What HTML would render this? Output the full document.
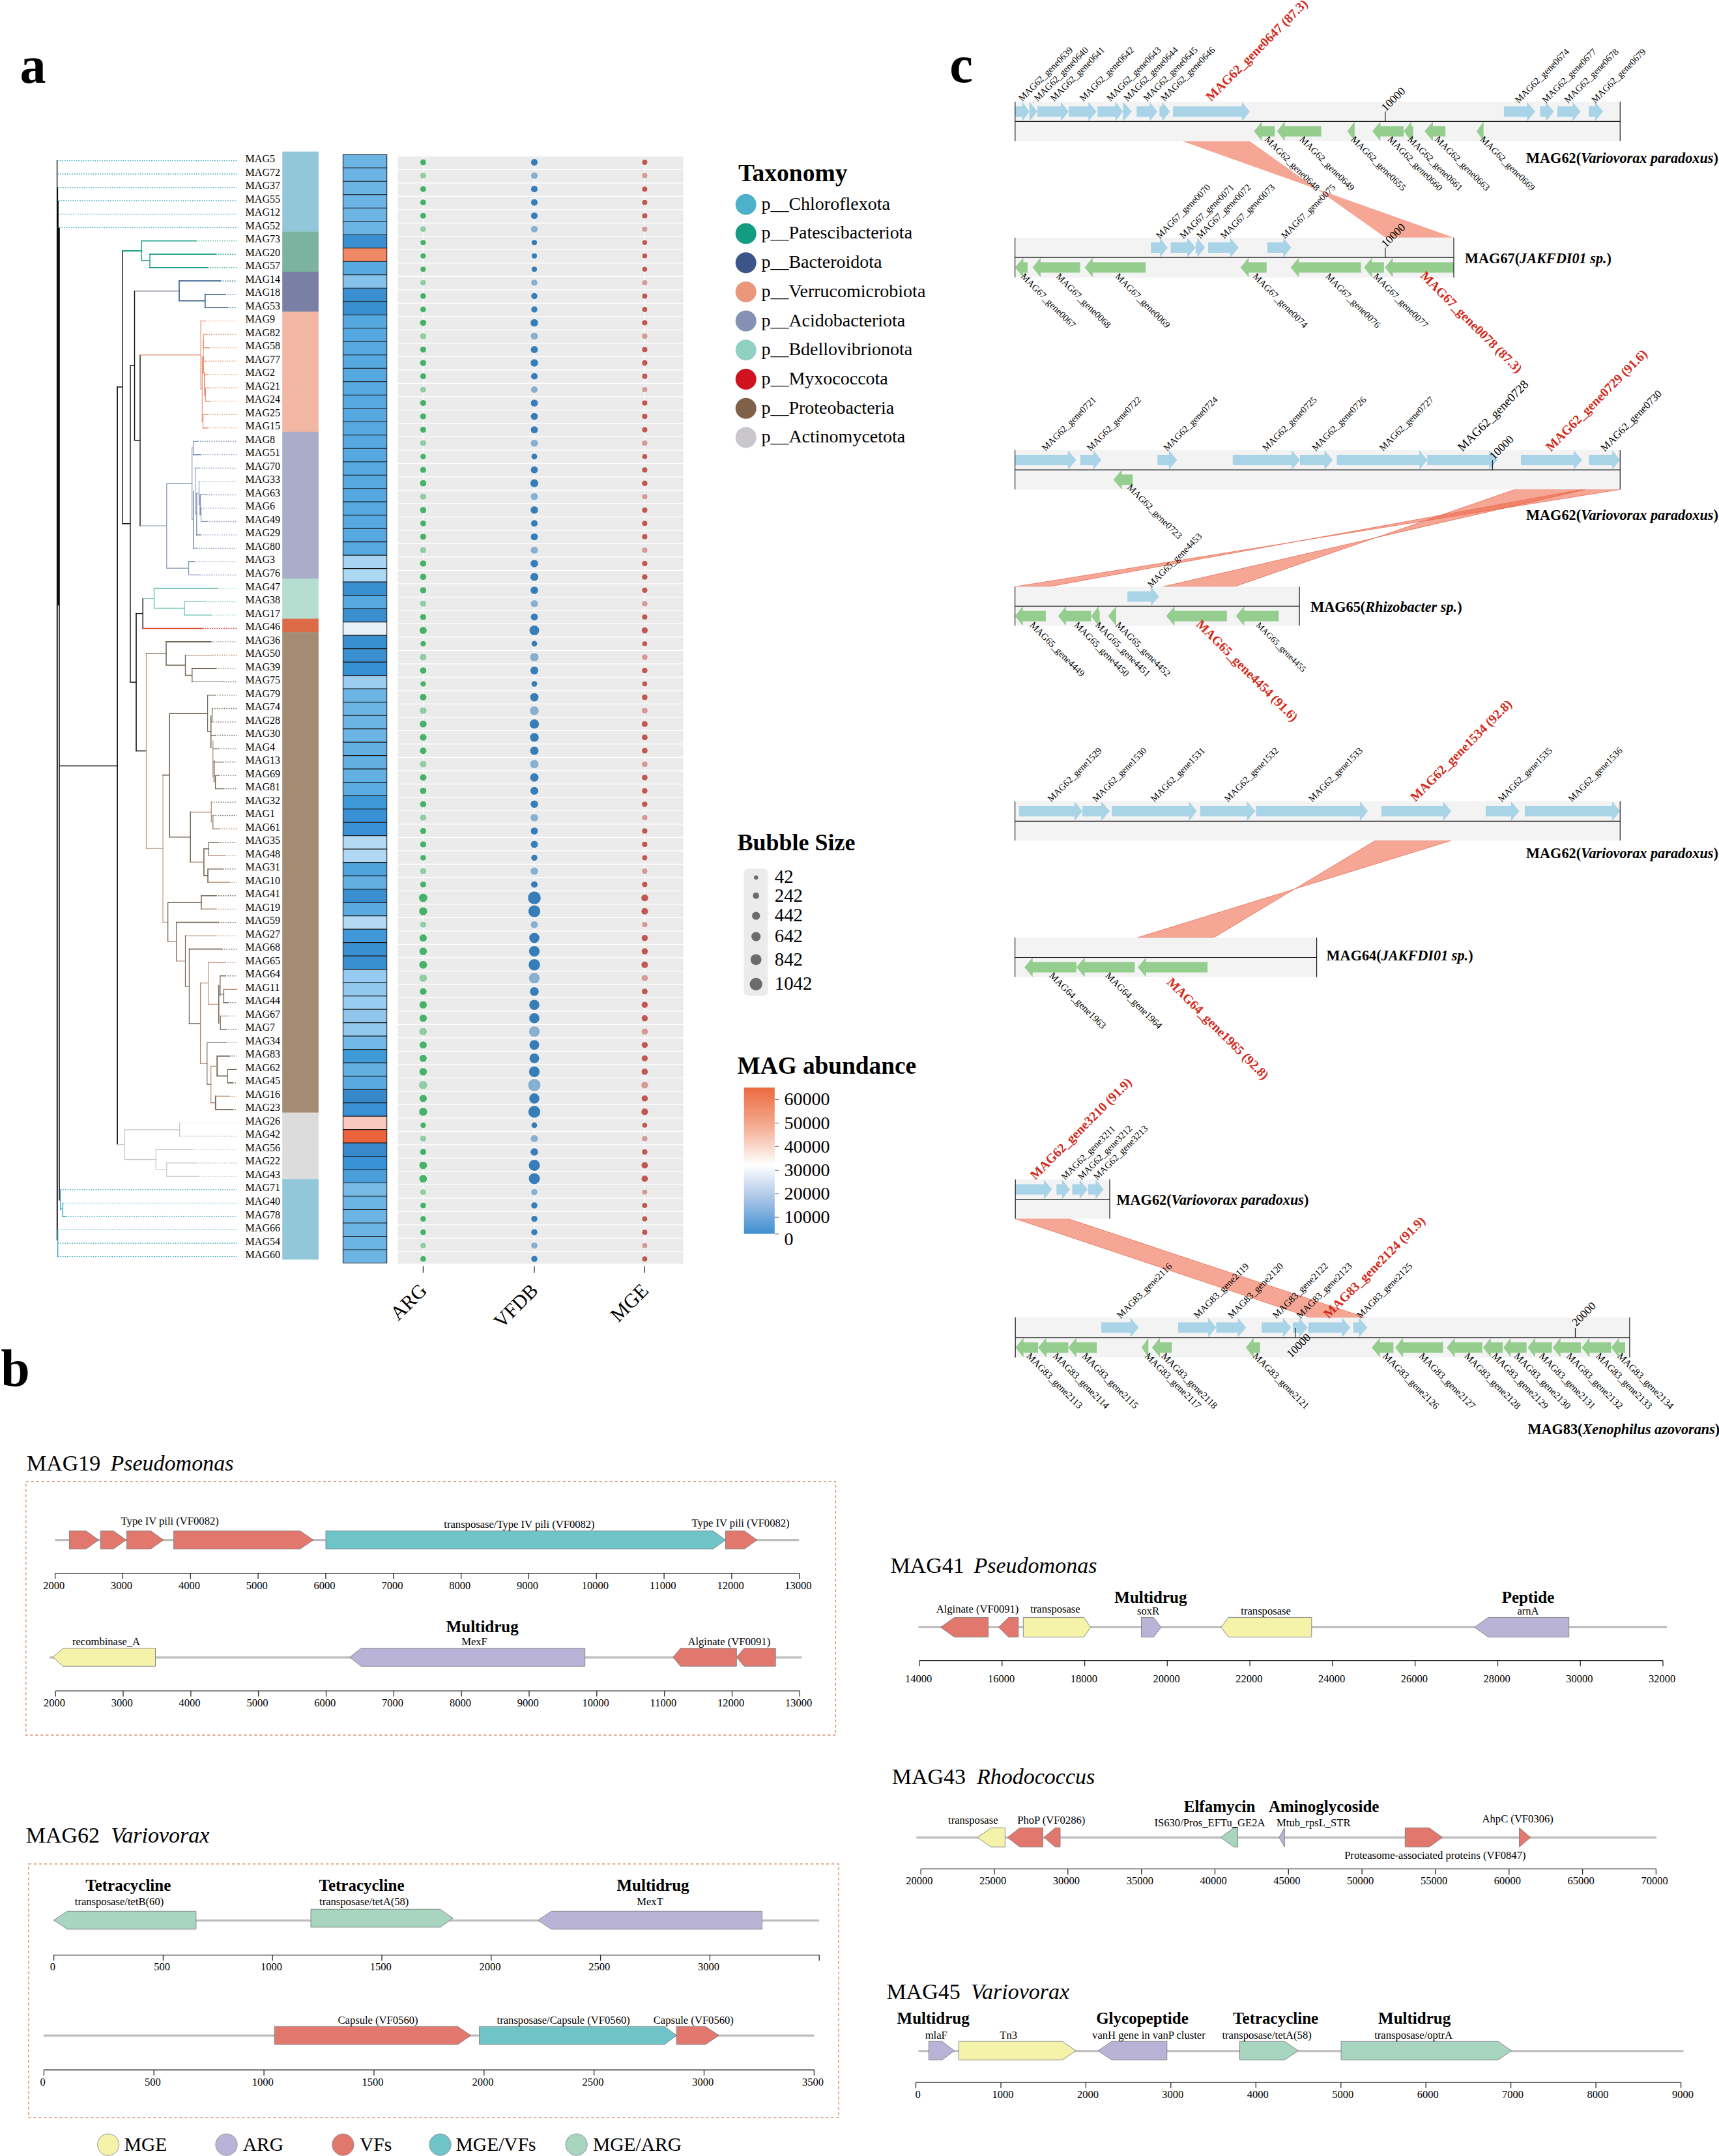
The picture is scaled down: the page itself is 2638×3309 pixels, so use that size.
<!DOCTYPE html>
<html><head><meta charset="utf-8"><title>Figure</title>
<style>
html,body{margin:0;padding:0;background:#fff;}
svg{display:block;font-family:"Liberation Serif",serif;}
</style></head><body>
<svg width="2638" height="3309" viewBox="0 0 2638 3309">
<rect width="2638" height="3309" fill="#fff"/>
<g id="panel-a">
<rect x="86.9" y="246" width="1.4" height="41.8" fill="#0c0c0c"/>
<rect x="86.9" y="287.6" width="2.2" height="20.7" fill="#0c0c0c"/>
<rect x="86.9" y="308.1" width="3" height="41.2" fill="#0c0c0c"/>
<rect x="86.9" y="349.2" width="4.9" height="580" fill="#0c0c0c"/>
<path d="M87.8 929L87.8 1902.5" stroke="#111" stroke-width="1.9" fill="none" stroke-linecap="square"/>
<path d="M91 929L91 1841.6M91.2 1175.5L180 1175.5M209 941.6L209 1152.5" stroke="#111" stroke-width="1.6" fill="none" stroke-linecap="square"/>
<path d="M180 594L180 1756.6" stroke="#111" stroke-width="1.8" fill="none" stroke-linecap="square"/>
<path d="M180 594L188 594M188 385L188 803.8M188 803.8L200 803.8M200 561L200 1047M200 561L206.5 561M200 1047L209 1047M206.5 446.8L206.5 675.8M206.5 675.8L215 675.8M215 544.7L215 807M219.2 918.5L219.2 964.5M209 941.6L219.2 941.6M209 1152.5L224.4 1152.5" stroke="#111" stroke-width="1.4" fill="none" stroke-linecap="square"/>
<path d="M188 385L217.3 385M230 390.2L331 390.2" stroke="#1B9E86" stroke-width="1.8" fill="none" stroke-linecap="square"/>
<path d="M217.3 369.7L217.3 400M217.3 400L230 400M230 390.2L230 410.7" stroke="#1B9E86" stroke-width="1.4" fill="none" stroke-linecap="square"/>
<path d="M217.3 369.7L301 369.7M230 410.7L318.6 410.7" stroke="#1B9E86" stroke-width="1.6" fill="none" stroke-linecap="square"/>
<path d="M206.5 446.8L275 446.8" stroke="#4a5570" stroke-width="1.0" fill="none" stroke-linecap="square"/>
<path d="M275 431.2L275 461.8M275 461.8L314.8 461.8M314.8 451.7L314.8 472.2M314.8 451.7L345.5 451.7M314.8 472.2L349 472.2" stroke="#2F5A86" stroke-width="1.6" fill="none" stroke-linecap="square"/>
<path d="M275 431.2L338 431.2" stroke="#2F5A86" stroke-width="1.8" fill="none" stroke-linecap="square"/>
<path d="M215 544.7L308.3 544.7M312.2 533.8L321.3 533.8M315.5 615.8L322.6 615.8" stroke="#E9967A" stroke-width="1.4" fill="none" stroke-linecap="square"/>
<path d="M308.2 492.7L308.2 597" stroke="#E9967A" stroke-width="1.3" fill="none" stroke-linecap="square"/>
<path d="M308.2 492.7L315.5 492.7M308.2 597L310.4 597M310.3 547.5L310.3 646.8M312.5 513.2L316.8 513.2M313.2 554.3L316.1 554.3M314.2 574.8L318.7 574.8M315.5 595.3L322 595.3M315.5 595.3L315.5 615.8M311.6 636.3L311.6 656.8M311.6 636.3L318.7 636.3" stroke="#E9967A" stroke-width="1.2" fill="none" stroke-linecap="square"/>
<path d="M310.9 636.3L310.9 646.8M311.9 522.9L311.9 534M314 572.2L314 606.6" stroke="#E9967A" stroke-width="1.8" fill="none" stroke-linecap="square"/>
<path d="M312.5 513.2L312.5 533.8" stroke="#E9967A" stroke-width="1.1" fill="none" stroke-linecap="square"/>
<path d="M312.2 534L312.2 547.5" stroke="#E9967A" stroke-width="1.0" fill="none" stroke-linecap="square"/>
<path d="M312 547.5L312 572.2" stroke="#E9967A" stroke-width="2.2" fill="none" stroke-linecap="square"/>
<path d="M311.6 656.8L318.7 656.8" stroke="#E9967A" stroke-width="1.6" fill="none" stroke-linecap="square"/>
<path d="M215 807L255.8 807M255.8 742.4L255.8 872.2M255.8 742.4L294.8 742.4M294.7 687L294.7 797.3M296.8 677.3L296.8 697.8M294.8 687.4L296.8 687.4M296.8 677.3L303.1 677.3M296.8 841.4L301.8 841.4M299.4 718.4L305.7 718.4M301.8 757L305.4 757M307 759.4L316.8 759.4M308.6 800.4L317.7 800.4M255.8 872.2L289.6 872.2M289.6 861.9L289.6 882.4M289.6 882.4L306.3 882.4" stroke="#8494B8" stroke-width="1.2" fill="none" stroke-linecap="square"/>
<path d="M296.8 697.8L307.7 697.8M301.8 820.9L307.7 820.9" stroke="#8494B8" stroke-width="1.8" fill="none" stroke-linecap="square"/>
<path d="M294.7 797.3L296.6 797.3M299.5 788.8L301.8 788.8" stroke="#8494B8" stroke-width="1.0" fill="none" stroke-linecap="square"/>
<path d="M296.8 753.8L296.8 841.4M289.6 861.9L298 861.9" stroke="#8494B8" stroke-width="1.6" fill="none" stroke-linecap="square"/>
<path d="M299.5 718.4L299.5 788.8M305.4 738.9L305.4 774.5M308.6 779.9L308.6 800.4" stroke="#8494B8" stroke-width="1.1" fill="none" stroke-linecap="square"/>
<path d="M301.8 757L301.8 820.9" stroke="#8494B8" stroke-width="1.4" fill="none" stroke-linecap="square"/>
<path d="M307.2 759.4L307.2 790" stroke="#8494B8" stroke-width="2.0" fill="none" stroke-linecap="square"/>
<path d="M219.2 918.5L236.6 918.5M283.2 923.5L316 923.5" stroke="#7FCBBD" stroke-width="1.2" fill="none" stroke-linecap="square"/>
<path d="M236.6 903L236.6 933.6M236.6 933.6L283.2 933.6M283.2 944L323.7 944" stroke="#7FCBBD" stroke-width="1.6" fill="none" stroke-linecap="square"/>
<path d="M236.6 903L334 903" stroke="#7FCBBD" stroke-width="1.8" fill="none" stroke-linecap="square"/>
<path d="M283.2 923.5L283.2 944" stroke="#7FCBBD" stroke-width="1.4" fill="none" stroke-linecap="square"/>
<path d="M219.2 964.5L310.9 964.5" stroke="#D63A20" stroke-width="1.4" fill="none" stroke-linecap="square"/>
<path d="M224.4 1002.7L224.4 1302.2M224.4 1302.2L250 1302.2M250 1189.6L250 1415.4M250 1415.4L257.6 1415.4M284.5 1436.2L331.4 1436.2M307.6 1508.8L319.6 1508.8M319.6 1477.3L319.6 1541.3M319.6 1477.3L345.4 1477.3M319.6 1541.3L335.7 1541.3M338.3 1559.3L349 1559.3M307.6 1632.4L317.8 1632.4" stroke="#B08266" stroke-width="1.0" fill="none" stroke-linecap="square"/>
<path d="M224.4 1002.7L255 1002.7M294.8 1046.5L342.9 1046.5M318.6 1067L318.6 1122.5M318.6 1067L330 1067M318.6 1122.5L323.7 1122.5M325.5 1087.6L325.5 1108.1M323.7 1128.6L330 1128.6M326.8 1149.1L335.5 1149.1M326.8 1169.6L341.6 1169.6M330.6 1190.1L335.5 1190.1M330.6 1210.6L343 1210.6M330.6 1190.1L330.6 1210.6M326.8 1251.6L326.8 1272.1M320.4 1292.7L320.4 1313.2M270.7 1415.7L270.7 1475M284.5 1436.2L284.5 1513.9M290.4 1456.7L290.4 1571M337.8 1526L343.4 1526M338.3 1559.3L338.3 1579.8M317.8 1600.3L317.8 1664.2M317.8 1600.3L346.7 1600.3M317.8 1664.2L323.7 1664.2M349.3 1641.3L349.3 1661.9M349.3 1641.3L362 1641.3M323.7 1692.6L330.8 1692.6" stroke="#766859" stroke-width="1.2" fill="none" stroke-linecap="square"/>
<path d="M255 985L255 1020.9M255 1020.9L284.5 1020.9M250 1189.6L260.2 1189.6M260.2 1094.9L260.2 1284.8M260.2 1094.9L318.6 1094.9M323.7 1098.7L323.7 1147.4M328.6 1168L328.6 1200M260.2 1284.8L292.2 1284.8M292.2 1246.4L292.2 1323.2M312.9 1302.7L312.9 1343.7M319 1333.7L319 1354.2M319 1333.7L341.6 1333.7M308.8 1374.7L308.8 1395.2M290.4 1571L307.6 1571M335.7 1512.6L335.7 1570.2M343.4 1538.8L349.3 1538.8M338.3 1579.8L346.7 1579.8M333.2 1651.4L349.3 1651.4M349.3 1661.9L357 1661.9" stroke="#766859" stroke-width="1.6" fill="none" stroke-linecap="square"/>
<path d="M255 985L323.7 985M294.8 1026L331.4 1026M270.7 1415.7L335.2 1415.7M290.4 1456.7L340.3 1456.7M333.2 1620.8L333.2 1651.4M333.2 1620.8L351.8 1620.8M330.8 1682.4L330.8 1702.9M330.8 1702.9L357 1702.9" stroke="#766859" stroke-width="1.8" fill="none" stroke-linecap="square"/>
<path d="M284.5 1005.5L284.5 1036.5M284.5 1036.5L294.8 1036.5M294.8 1026L294.8 1046.5M312.9 1302.7L320.4 1302.7M320.4 1292.7L334.4 1292.7M312.9 1343.7L319 1343.7M257.6 1385.2L257.6 1445.3M257.6 1385.2L308.8 1385.2M308.8 1374.7L331.4 1374.7M284.5 1513.9L290.4 1513.9M337.8 1497.8L337.8 1528M337.8 1497.8L345.4 1497.8M343.4 1518.3L343.4 1538.8" stroke="#766859" stroke-width="1.4" fill="none" stroke-linecap="square"/>
<path d="M284.5 1005.5L326 1005.5M326.8 1137L326.8 1192M292.2 1246.4L324.2 1246.4M324.2 1231.1L324.2 1261.8M326.8 1272.1L336.5 1272.1M292.2 1323.2L312.9 1323.2M320.4 1313.2L345.4 1313.2M319 1354.2L351.8 1354.2M308.8 1395.2L331.4 1395.2M257.6 1445.3L270.7 1445.3M270.7 1475L284.5 1475M307.6 1508.8L307.6 1632.4M343.4 1518.3L363.5 1518.3M323.7 1636.3L323.7 1692.6M323.7 1636.3L333.2 1636.3M330.8 1682.4L351.8 1682.4" stroke="#B08266" stroke-width="1.2" fill="none" stroke-linecap="square"/>
<path d="M180 1756.6L191.3 1756.6M239.2 1764.4L239.2 1795M239.2 1795L255.8 1795M255.8 1784.9L255.8 1805.4M255.8 1805.4L304.5 1805.4" stroke="#C6CACD" stroke-width="1.2" fill="none" stroke-linecap="square"/>
<path d="M191.3 1734L191.3 1779.6M275.6 1723.4L275.6 1743.9M191.3 1779.6L239.2 1779.6M239.2 1764.4L295.5 1764.4M255.8 1784.9L300.6 1784.9" stroke="#C6CACD" stroke-width="1.4" fill="none" stroke-linecap="square"/>
<path d="M191.3 1734L275.6 1734" stroke="#C6CACD" stroke-width="1.6" fill="none" stroke-linecap="square"/>
<path d="M92.8 1825.9L92.8 1857M96.4 1846.5L96.4 1867M88.7 1887.5L88.7 1928.5" stroke="#3FA7C6" stroke-width="1.4" fill="none" stroke-linecap="square"/>
<path d="M92.8 1855L96.4 1855" stroke="#3FA7C6" stroke-width="1.2" fill="none" stroke-linecap="square"/>
<path d="M96.4 1867L101 1867" stroke="#3FA7C6" stroke-width="1.6" fill="none" stroke-linecap="square"/>
<path d="M88 246.6L363.5 246.6M89.2 287.6L363.5 287.6M90.4 328.6L363.5 328.6M96.4 1846.5L363.5 1846.5M88.7 1887.5L363.5 1887.5M88.7 1928.5L363.5 1928.5" stroke="#3FA7C6" stroke-width="1.05" stroke-dasharray="1.6 2.0" fill="none"/>
<path d="M88.6 267.1L363.5 267.1M89.8 308.1L363.5 308.1M91 349.2L363.5 349.2M92.8 1825.9L363.5 1825.9M101 1867L363.5 1867M88.7 1908L363.5 1908" stroke="#3FA7C6" stroke-width="1.5" stroke-dasharray="1.6 2.0" fill="none"/>
<path d="M301 369.7L363.5 369.7M318.6 410.7L363.5 410.7" stroke="#1B9E86" stroke-width="1.05" stroke-dasharray="1.6 2.0" fill="none"/>
<path d="M331 390.2L363.5 390.2" stroke="#1B9E86" stroke-width="1.5" stroke-dasharray="1.6 2.0" fill="none"/>
<path d="M338 431.2L363.5 431.2M349 472.2L363.5 472.2" stroke="#2F5A86" stroke-width="1.5" stroke-dasharray="1.6 2.0" fill="none"/>
<path d="M345.5 451.7L363.5 451.7" stroke="#2F5A86" stroke-width="1.05" stroke-dasharray="1.6 2.0" fill="none"/>
<path d="M315.5 492.7L363.5 492.7M321.3 533.8L363.5 533.8M318.7 574.8L363.5 574.8M322.6 615.8L363.5 615.8M318.7 656.8L363.5 656.8" stroke="#E9967A" stroke-width="1.05" stroke-dasharray="1.6 2.0" fill="none"/>
<path d="M316.8 513.2L363.5 513.2M316.1 554.3L363.5 554.3M322 595.3L363.5 595.3M318.7 636.3L363.5 636.3" stroke="#E9967A" stroke-width="1.5" stroke-dasharray="1.6 2.0" fill="none"/>
<path d="M303.1 677.3L363.5 677.3M301.8 841.4L363.5 841.4M305.7 718.4L363.5 718.4M316.8 759.4L363.5 759.4M317.7 800.4L363.5 800.4M306.3 882.4L363.5 882.4" stroke="#8494B8" stroke-width="1.5" stroke-dasharray="1.6 2.0" fill="none"/>
<path d="M307.7 697.8L363.5 697.8M307.7 820.9L363.5 820.9M305.4 738.9L363.5 738.9M308.6 779.9L363.5 779.9M298 861.9L363.5 861.9" stroke="#8494B8" stroke-width="1.05" stroke-dasharray="1.6 2.0" fill="none"/>
<path d="M334 903L363.5 903M323.7 944L363.5 944" stroke="#7FCBBD" stroke-width="1.05" stroke-dasharray="1.6 2.0" fill="none"/>
<path d="M316 923.5L363.5 923.5" stroke="#7FCBBD" stroke-width="1.5" stroke-dasharray="1.6 2.0" fill="none"/>
<path d="M310.9 964.5L363.5 964.5" stroke="#D63A20" stroke-width="1.5" stroke-dasharray="1.6 2.0" fill="none"/>
<path d="M323.7 985L363.5 985M331.4 1026L363.5 1026M330 1067L363.5 1067M323.7 1108.1L363.5 1108.1M335.5 1149.1L363.5 1149.1M335.5 1190.1L363.5 1190.1M324.2 1231.1L363.5 1231.1M346.7 1600.3L363.5 1600.3M362 1641.3L363.5 1641.3" stroke="#766859" stroke-width="1.05" stroke-dasharray="1.6 2.0" fill="none"/>
<path d="M326 1005.5L363.5 1005.5" stroke="#B08266" stroke-width="1.5" stroke-dasharray="1.6 2.0" fill="none"/>
<path d="M342.9 1046.5L363.5 1046.5M325.5 1087.6L363.5 1087.6M330 1128.6L363.5 1128.6M341.6 1169.6L363.5 1169.6M343 1210.6L363.5 1210.6M326.8 1251.6L363.5 1251.6M334.4 1292.7L363.5 1292.7M341.6 1333.7L363.5 1333.7M331.4 1374.7L363.5 1374.7M335.2 1415.7L363.5 1415.7M340.3 1456.7L363.5 1456.7M345.4 1497.8L363.5 1497.8M349.3 1538.8L363.5 1538.8M346.7 1579.8L363.5 1579.8M351.8 1620.8L363.5 1620.8M357 1661.9L363.5 1661.9M357 1702.9L363.5 1702.9" stroke="#766859" stroke-width="1.5" stroke-dasharray="1.6 2.0" fill="none"/>
<path d="M336.5 1272.1L363.5 1272.1M345.4 1313.2L363.5 1313.2M351.8 1354.2L363.5 1354.2M331.4 1395.2L363.5 1395.2M331.4 1436.2L363.5 1436.2M345.4 1477.3L363.5 1477.3M349 1559.3L363.5 1559.3M351.8 1682.4L363.5 1682.4" stroke="#B08266" stroke-width="1.05" stroke-dasharray="1.6 2.0" fill="none"/>
<path d="M275.6 1723.4L363.5 1723.4M295.5 1764.4L363.5 1764.4M304.5 1805.4L363.5 1805.4" stroke="#C6CACD" stroke-width="1.05" stroke-dasharray="1.6 2.0" fill="none"/>
<path d="M275.6 1743.9L363.5 1743.9M300.6 1784.9L363.5 1784.9" stroke="#C6CACD" stroke-width="1.5" stroke-dasharray="1.6 2.0" fill="none"/>
<g font-size="16" fill="#000">
<text x="376.6" y="249.1">MAG5</text>
<text x="376.6" y="269.6">MAG72</text>
<text x="376.6" y="290.1">MAG37</text>
<text x="376.6" y="310.6">MAG55</text>
<text x="376.6" y="331.1">MAG12</text>
<text x="376.6" y="351.7">MAG52</text>
<text x="376.6" y="372.2">MAG73</text>
<text x="376.6" y="392.7">MAG20</text>
<text x="376.6" y="413.2">MAG57</text>
<text x="376.6" y="433.7">MAG14</text>
<text x="376.6" y="454.2">MAG18</text>
<text x="376.6" y="474.7">MAG53</text>
<text x="376.6" y="495.2">MAG9</text>
<text x="376.6" y="515.7">MAG82</text>
<text x="376.6" y="536.3">MAG58</text>
<text x="376.6" y="556.8">MAG77</text>
<text x="376.6" y="577.3">MAG2</text>
<text x="376.6" y="597.8">MAG21</text>
<text x="376.6" y="618.3">MAG24</text>
<text x="376.6" y="638.8">MAG25</text>
<text x="376.6" y="659.3">MAG15</text>
<text x="376.6" y="679.8">MAG8</text>
<text x="376.6" y="700.3">MAG51</text>
<text x="376.6" y="720.9">MAG70</text>
<text x="376.6" y="741.4">MAG33</text>
<text x="376.6" y="761.9">MAG63</text>
<text x="376.6" y="782.4">MAG6</text>
<text x="376.6" y="802.9">MAG49</text>
<text x="376.6" y="823.4">MAG29</text>
<text x="376.6" y="843.9">MAG80</text>
<text x="376.6" y="864.4">MAG3</text>
<text x="376.6" y="884.9">MAG76</text>
<text x="376.6" y="905.5">MAG47</text>
<text x="376.6" y="926">MAG38</text>
<text x="376.6" y="946.5">MAG17</text>
<text x="376.6" y="967">MAG46</text>
<text x="376.6" y="987.5">MAG36</text>
<text x="376.6" y="1008">MAG50</text>
<text x="376.6" y="1028.5">MAG39</text>
<text x="376.6" y="1049">MAG75</text>
<text x="376.6" y="1069.5">MAG79</text>
<text x="376.6" y="1090.1">MAG74</text>
<text x="376.6" y="1110.6">MAG28</text>
<text x="376.6" y="1131.1">MAG30</text>
<text x="376.6" y="1151.6">MAG4</text>
<text x="376.6" y="1172.1">MAG13</text>
<text x="376.6" y="1192.6">MAG69</text>
<text x="376.6" y="1213.1">MAG81</text>
<text x="376.6" y="1233.6">MAG32</text>
<text x="376.6" y="1254.1">MAG1</text>
<text x="376.6" y="1274.6">MAG61</text>
<text x="376.6" y="1295.2">MAG35</text>
<text x="376.6" y="1315.7">MAG48</text>
<text x="376.6" y="1336.2">MAG31</text>
<text x="376.6" y="1356.7">MAG10</text>
<text x="376.6" y="1377.2">MAG41</text>
<text x="376.6" y="1397.7">MAG19</text>
<text x="376.6" y="1418.2">MAG59</text>
<text x="376.6" y="1438.7">MAG27</text>
<text x="376.6" y="1459.2">MAG68</text>
<text x="376.6" y="1479.8">MAG65</text>
<text x="376.6" y="1500.3">MAG64</text>
<text x="376.6" y="1520.8">MAG11</text>
<text x="376.6" y="1541.3">MAG44</text>
<text x="376.6" y="1561.8">MAG67</text>
<text x="376.6" y="1582.3">MAG7</text>
<text x="376.6" y="1602.8">MAG34</text>
<text x="376.6" y="1623.3">MAG83</text>
<text x="376.6" y="1643.8">MAG62</text>
<text x="376.6" y="1664.4">MAG45</text>
<text x="376.6" y="1684.9">MAG16</text>
<text x="376.6" y="1705.4">MAG23</text>
<text x="376.6" y="1725.9">MAG26</text>
<text x="376.6" y="1746.4">MAG42</text>
<text x="376.6" y="1766.9">MAG56</text>
<text x="376.6" y="1787.4">MAG22</text>
<text x="376.6" y="1807.9">MAG43</text>
<text x="376.6" y="1828.4">MAG71</text>
<text x="376.6" y="1849">MAG40</text>
<text x="376.6" y="1869.5">MAG78</text>
<text x="376.6" y="1890">MAG66</text>
<text x="376.6" y="1910.5">MAG54</text>
<text x="376.6" y="1931">MAG60</text>
</g>
<rect x="433.2" y="232.6" width="55.7" height="123.2" fill="#91C7D9"/>
<rect x="433.2" y="355.5" width="55.7" height="61.8" fill="#7BB3A0"/>
<rect x="433.2" y="417" width="55.7" height="61.8" fill="#7A7FA5"/>
<rect x="433.2" y="478.4" width="55.7" height="184.7" fill="#F1B7A3"/>
<rect x="433.2" y="662.8" width="55.7" height="225.6" fill="#A9ADC8"/>
<rect x="433.2" y="888.2" width="55.7" height="61.8" fill="#B5DDD0"/>
<rect x="433.2" y="949.6" width="55.7" height="20.8" fill="#DD6B47"/>
<rect x="433.2" y="970.1" width="55.7" height="737.8" fill="#A38B74"/>
<rect x="433.2" y="1707.6" width="55.7" height="102.7" fill="#DCDCDC"/>
<rect x="433.2" y="1810" width="55.7" height="123.2" fill="#91C7D9"/>
<rect x="526.4" y="237.2" width="67.3" height="20.7" fill="#6CB4E4"/>
<rect x="526.4" y="257.7" width="67.3" height="20.7" fill="#6CB4E4"/>
<rect x="526.4" y="278.2" width="67.3" height="20.7" fill="#6CB4E4"/>
<rect x="526.4" y="298.7" width="67.3" height="20.7" fill="#6CB4E4"/>
<rect x="526.4" y="319.2" width="67.3" height="20.7" fill="#6CB4E4"/>
<rect x="526.4" y="339.7" width="67.3" height="20.7" fill="#6CB4E4"/>
<rect x="526.4" y="360.2" width="67.3" height="20.7" fill="#3A8FD0"/>
<rect x="526.4" y="380.7" width="67.3" height="20.7" fill="#F08866"/>
<rect x="526.4" y="401.2" width="67.3" height="20.7" fill="#55A8E0"/>
<rect x="526.4" y="421.7" width="67.3" height="20.7" fill="#85C1EA"/>
<rect x="526.4" y="442.2" width="67.3" height="20.7" fill="#3A8FD0"/>
<rect x="526.4" y="462.7" width="67.3" height="20.7" fill="#3A8FD0"/>
<rect x="526.4" y="483.2" width="67.3" height="20.7" fill="#55A8E0"/>
<rect x="526.4" y="503.7" width="67.3" height="20.7" fill="#55A8E0"/>
<rect x="526.4" y="524.2" width="67.3" height="20.7" fill="#55A8E0"/>
<rect x="526.4" y="544.7" width="67.3" height="20.7" fill="#55A8E0"/>
<rect x="526.4" y="565.2" width="67.3" height="20.7" fill="#55A8E0"/>
<rect x="526.4" y="585.7" width="67.3" height="20.7" fill="#55A8E0"/>
<rect x="526.4" y="606.2" width="67.3" height="20.7" fill="#55A8E0"/>
<rect x="526.4" y="626.7" width="67.3" height="20.7" fill="#55A8E0"/>
<rect x="526.4" y="647.2" width="67.3" height="20.7" fill="#55A8E0"/>
<rect x="526.4" y="667.7" width="67.3" height="20.7" fill="#55A8E0"/>
<rect x="526.4" y="688.2" width="67.3" height="20.7" fill="#55A8E0"/>
<rect x="526.4" y="708.7" width="67.3" height="20.7" fill="#55A8E0"/>
<rect x="526.4" y="729.2" width="67.3" height="20.7" fill="#55A8E0"/>
<rect x="526.4" y="749.7" width="67.3" height="20.7" fill="#55A8E0"/>
<rect x="526.4" y="770.1" width="67.3" height="20.7" fill="#55A8E0"/>
<rect x="526.4" y="790.6" width="67.3" height="20.7" fill="#55A8E0"/>
<rect x="526.4" y="811.1" width="67.3" height="20.7" fill="#55A8E0"/>
<rect x="526.4" y="831.6" width="67.3" height="20.7" fill="#55A8E0"/>
<rect x="526.4" y="852.1" width="67.3" height="20.7" fill="#A8D4F2"/>
<rect x="526.4" y="872.6" width="67.3" height="20.7" fill="#ACD8F4"/>
<rect x="526.4" y="893.1" width="67.3" height="20.7" fill="#3A8FD0"/>
<rect x="526.4" y="913.6" width="67.3" height="20.7" fill="#55A8E0"/>
<rect x="526.4" y="934.1" width="67.3" height="20.7" fill="#3A8FD0"/>
<rect x="526.4" y="954.6" width="67.3" height="20.7" fill="#E8F1F8"/>
<rect x="526.4" y="975.1" width="67.3" height="20.7" fill="#3A8FD0"/>
<rect x="526.4" y="995.6" width="67.3" height="20.7" fill="#3A8FD0"/>
<rect x="526.4" y="1016.1" width="67.3" height="20.7" fill="#3690D4"/>
<rect x="526.4" y="1036.6" width="67.3" height="20.7" fill="#9CCDF0"/>
<rect x="526.4" y="1057.1" width="67.3" height="20.7" fill="#6CB4E4"/>
<rect x="526.4" y="1077.6" width="67.3" height="20.7" fill="#6CB4E4"/>
<rect x="526.4" y="1098.1" width="67.3" height="20.7" fill="#6CB4E4"/>
<rect x="526.4" y="1118.6" width="67.3" height="20.7" fill="#6CB4E4"/>
<rect x="526.4" y="1139.1" width="67.3" height="20.7" fill="#62B0E2"/>
<rect x="526.4" y="1159.6" width="67.3" height="20.7" fill="#62B0E2"/>
<rect x="526.4" y="1180.1" width="67.3" height="20.7" fill="#62B0E2"/>
<rect x="526.4" y="1200.6" width="67.3" height="20.7" fill="#5BACE0"/>
<rect x="526.4" y="1221.1" width="67.3" height="20.7" fill="#3F98D8"/>
<rect x="526.4" y="1241.6" width="67.3" height="20.7" fill="#3A90D4"/>
<rect x="526.4" y="1262.1" width="67.3" height="20.7" fill="#3A90D4"/>
<rect x="526.4" y="1282.6" width="67.3" height="20.7" fill="#B4DAF3"/>
<rect x="526.4" y="1303.1" width="67.3" height="20.7" fill="#B0D8F2"/>
<rect x="526.4" y="1323.6" width="67.3" height="20.7" fill="#50A4DE"/>
<rect x="526.4" y="1344.1" width="67.3" height="20.7" fill="#62B0E2"/>
<rect x="526.4" y="1364.6" width="67.3" height="20.7" fill="#3A8FD0"/>
<rect x="526.4" y="1385.1" width="67.3" height="20.7" fill="#5AAAE0"/>
<rect x="526.4" y="1405.6" width="67.3" height="20.7" fill="#B4DAF3"/>
<rect x="526.4" y="1426.1" width="67.3" height="20.7" fill="#4098D8"/>
<rect x="526.4" y="1446.6" width="67.3" height="20.7" fill="#3A8FD0"/>
<rect x="526.4" y="1467.1" width="67.3" height="20.7" fill="#3A8FD0"/>
<rect x="526.4" y="1487.6" width="67.3" height="20.7" fill="#96CAF0"/>
<rect x="526.4" y="1508.1" width="67.3" height="20.7" fill="#90C8EE"/>
<rect x="526.4" y="1528.6" width="67.3" height="20.7" fill="#98CCF0"/>
<rect x="526.4" y="1549.1" width="67.3" height="20.7" fill="#90C6EC"/>
<rect x="526.4" y="1569.6" width="67.3" height="20.7" fill="#90C8EE"/>
<rect x="526.4" y="1590.1" width="67.3" height="20.7" fill="#72B8E6"/>
<rect x="526.4" y="1610.6" width="67.3" height="20.7" fill="#3F9AD8"/>
<rect x="526.4" y="1631.1" width="67.3" height="20.7" fill="#62B0E2"/>
<rect x="526.4" y="1651.6" width="67.3" height="20.7" fill="#58AAE0"/>
<rect x="526.4" y="1672.1" width="67.3" height="20.7" fill="#3888CC"/>
<rect x="526.4" y="1692.6" width="67.3" height="20.7" fill="#3A90D4"/>
<rect x="526.4" y="1713.1" width="67.3" height="20.7" fill="#F7C9BF"/>
<rect x="526.4" y="1733.6" width="67.3" height="20.7" fill="#EC643C"/>
<rect x="526.4" y="1754.1" width="67.3" height="20.7" fill="#3888CC"/>
<rect x="526.4" y="1774.6" width="67.3" height="20.7" fill="#3A92D6"/>
<rect x="526.4" y="1795" width="67.3" height="20.7" fill="#4A9EDA"/>
<rect x="526.4" y="1815.5" width="67.3" height="20.7" fill="#78BAE6"/>
<rect x="526.4" y="1836" width="67.3" height="20.7" fill="#6CB4E4"/>
<rect x="526.4" y="1856.5" width="67.3" height="20.7" fill="#6CB4E4"/>
<rect x="526.4" y="1877" width="67.3" height="20.7" fill="#6CB4E4"/>
<rect x="526.4" y="1897.5" width="67.3" height="20.7" fill="#6CB4E4"/>
<rect x="526.4" y="1918" width="67.3" height="20.7" fill="#6CB4E4"/>
<path d="M526.4 237.2H593.7M526.4 257.7H593.7M526.4 278.2H593.7M526.4 298.7H593.7M526.4 319.2H593.7M526.4 339.7H593.7M526.4 360.2H593.7M526.4 380.7H593.7M526.4 401.2H593.7M526.4 421.7H593.7M526.4 442.2H593.7M526.4 462.7H593.7M526.4 483.2H593.7M526.4 503.7H593.7M526.4 524.2H593.7M526.4 544.7H593.7M526.4 565.2H593.7M526.4 585.7H593.7M526.4 606.2H593.7M526.4 626.7H593.7M526.4 647.2H593.7M526.4 667.7H593.7M526.4 688.2H593.7M526.4 708.7H593.7M526.4 729.2H593.7M526.4 749.7H593.7M526.4 770.1H593.7M526.4 790.6H593.7M526.4 811.1H593.7M526.4 831.6H593.7M526.4 852.1H593.7M526.4 872.6H593.7M526.4 893.1H593.7M526.4 913.6H593.7M526.4 934.1H593.7M526.4 954.6H593.7M526.4 975.1H593.7M526.4 995.6H593.7M526.4 1016.1H593.7M526.4 1036.6H593.7M526.4 1057.1H593.7M526.4 1077.6H593.7M526.4 1098.1H593.7M526.4 1118.6H593.7M526.4 1139.1H593.7M526.4 1159.6H593.7M526.4 1180.1H593.7M526.4 1200.6H593.7M526.4 1221.1H593.7M526.4 1241.6H593.7M526.4 1262.1H593.7M526.4 1282.6H593.7M526.4 1303.1H593.7M526.4 1323.6H593.7M526.4 1344.1H593.7M526.4 1364.6H593.7M526.4 1385.1H593.7M526.4 1405.6H593.7M526.4 1426.1H593.7M526.4 1446.6H593.7M526.4 1467.1H593.7M526.4 1487.6H593.7M526.4 1508.1H593.7M526.4 1528.6H593.7M526.4 1549.1H593.7M526.4 1569.6H593.7M526.4 1590.1H593.7M526.4 1610.6H593.7M526.4 1631.1H593.7M526.4 1651.6H593.7M526.4 1672.1H593.7M526.4 1692.6H593.7M526.4 1713.1H593.7M526.4 1733.6H593.7M526.4 1754.1H593.7M526.4 1774.6H593.7M526.4 1795H593.7M526.4 1815.5H593.7M526.4 1836H593.7M526.4 1856.5H593.7M526.4 1877H593.7M526.4 1897.5H593.7M526.4 1918H593.7M526.4 1938.5H593.7M526.4 237.2V1938.5M593.7 237.2V1938.5" stroke="#141414" stroke-width="1.05" fill="none" stroke-linecap="square"/>
<rect x="610.6" y="240.3" width="438.2" height="1699.3" fill="#EBEBEB"/>
<path d="M649.4 240.3V1939.6M820 240.3V1939.6M989.4 240.3V1939.6" stroke="#FFFFFF" stroke-width="1.0" fill="none"/>
<path d="M610.6 260.3H1048.8M610.6 280.8H1048.8M610.6 301.3H1048.8M610.6 321.8H1048.8M610.6 342.3H1048.8M610.6 362.8H1048.8M610.6 383.3H1048.8M610.6 403.8H1048.8M610.6 424.3H1048.8M610.6 444.8H1048.8M610.6 465.3H1048.8M610.6 485.8H1048.8M610.6 506.3H1048.8M610.6 526.8H1048.8M610.6 547.3H1048.8M610.6 567.8H1048.8M610.6 588.3H1048.8M610.6 608.8H1048.8M610.6 629.3H1048.8M610.6 649.8H1048.8M610.6 670.3H1048.8M610.6 690.8H1048.8M610.6 711.3H1048.8M610.6 731.8H1048.8M610.6 752.3H1048.8M610.6 772.8H1048.8M610.6 793.3H1048.8M610.6 813.8H1048.8M610.6 834.3H1048.8M610.6 854.8H1048.8M610.6 875.3H1048.8M610.6 895.8H1048.8M610.6 916.3H1048.8M610.6 936.8H1048.8M610.6 957.3H1048.8M610.6 977.8H1048.8M610.6 998.3H1048.8M610.6 1018.8H1048.8M610.6 1039.3H1048.8M610.6 1059.8H1048.8M610.6 1080.3H1048.8M610.6 1100.8H1048.8M610.6 1121.3H1048.8M610.6 1141.8H1048.8M610.6 1162.3H1048.8M610.6 1182.8H1048.8M610.6 1203.3H1048.8M610.6 1223.8H1048.8M610.6 1244.3H1048.8M610.6 1264.8H1048.8M610.6 1285.3H1048.8M610.6 1305.8H1048.8M610.6 1326.3H1048.8M610.6 1346.8H1048.8M610.6 1367.3H1048.8M610.6 1387.8H1048.8M610.6 1408.3H1048.8M610.6 1428.8H1048.8M610.6 1449.3H1048.8M610.6 1469.8H1048.8M610.6 1490.3H1048.8M610.6 1510.8H1048.8M610.6 1531.3H1048.8M610.6 1551.8H1048.8M610.6 1572.3H1048.8M610.6 1592.8H1048.8M610.6 1613.3H1048.8M610.6 1633.8H1048.8M610.6 1654.3H1048.8M610.6 1674.8H1048.8M610.6 1695.3H1048.8M610.6 1715.8H1048.8M610.6 1736.3H1048.8M610.6 1756.8H1048.8M610.6 1777.3H1048.8M610.6 1797.8H1048.8M610.6 1818.3H1048.8M610.6 1838.8H1048.8M610.6 1859.3H1048.8M610.6 1879.8H1048.8M610.6 1900.3H1048.8M610.6 1920.8H1048.8" stroke="#FFFFFF" stroke-width="1.35" fill="none"/>
<path d="M649.4 1943.3V1953.4M820 1943.3V1953.4M989.4 1943.3V1953.4" stroke="#222" stroke-width="1.2" fill="none"/>
<circle cx="649.4" cy="249.1" r="4.48" fill="#45B169"/>
<circle cx="820" cy="249.1" r="5.07" fill="#377EB8"/>
<circle cx="989.4" cy="249.1" r="3.98" fill="#C05850"/>
<circle cx="649.4" cy="269.6" r="4.48" fill="#45B169" opacity="0.56"/>
<circle cx="820" cy="269.6" r="5.07" fill="#377EB8" opacity="0.56"/>
<circle cx="989.4" cy="269.6" r="3.98" fill="#C05850" opacity="0.56"/>
<circle cx="649.4" cy="290.2" r="4.48" fill="#45B169"/>
<circle cx="820" cy="290.2" r="5.07" fill="#377EB8"/>
<circle cx="989.4" cy="290.2" r="3.98" fill="#C05850"/>
<circle cx="649.4" cy="310.7" r="4.48" fill="#45B169"/>
<circle cx="820" cy="310.7" r="5.07" fill="#377EB8"/>
<circle cx="989.4" cy="310.7" r="3.98" fill="#C05850"/>
<circle cx="649.4" cy="331.2" r="4.48" fill="#45B169"/>
<circle cx="820" cy="331.2" r="5.07" fill="#377EB8"/>
<circle cx="989.4" cy="331.2" r="3.98" fill="#C05850"/>
<circle cx="649.4" cy="351.7" r="4.48" fill="#45B169" opacity="0.56"/>
<circle cx="820" cy="351.7" r="5.07" fill="#377EB8" opacity="0.56"/>
<circle cx="989.4" cy="351.7" r="3.98" fill="#C05850" opacity="0.56"/>
<circle cx="649.4" cy="372.3" r="4.06" fill="#45B169"/>
<circle cx="820" cy="372.3" r="4.06" fill="#377EB8"/>
<circle cx="989.4" cy="372.3" r="3.70" fill="#C05850"/>
<circle cx="649.4" cy="392.8" r="4.06" fill="#45B169"/>
<circle cx="820" cy="392.8" r="4.06" fill="#377EB8"/>
<circle cx="989.4" cy="392.8" r="3.70" fill="#C05850"/>
<circle cx="649.4" cy="413.3" r="4.06" fill="#45B169"/>
<circle cx="820" cy="413.3" r="4.06" fill="#377EB8"/>
<circle cx="989.4" cy="413.3" r="3.70" fill="#C05850"/>
<circle cx="649.4" cy="433.8" r="4.34" fill="#45B169" opacity="0.56"/>
<circle cx="820" cy="433.8" r="4.74" fill="#377EB8" opacity="0.56"/>
<circle cx="989.4" cy="433.8" r="3.89" fill="#C05850" opacity="0.56"/>
<circle cx="649.4" cy="454.4" r="4.34" fill="#45B169"/>
<circle cx="820" cy="454.4" r="4.74" fill="#377EB8"/>
<circle cx="989.4" cy="454.4" r="3.89" fill="#C05850"/>
<circle cx="649.4" cy="474.9" r="4.34" fill="#45B169"/>
<circle cx="820" cy="474.9" r="4.74" fill="#377EB8"/>
<circle cx="989.4" cy="474.9" r="3.89" fill="#C05850"/>
<circle cx="649.4" cy="495.4" r="4.76" fill="#45B169"/>
<circle cx="820" cy="495.4" r="5.75" fill="#377EB8"/>
<circle cx="989.4" cy="495.4" r="4.16" fill="#C05850"/>
<circle cx="649.4" cy="515.9" r="4.62" fill="#45B169" opacity="0.56"/>
<circle cx="820" cy="515.9" r="5.41" fill="#377EB8" opacity="0.56"/>
<circle cx="989.4" cy="515.9" r="4.07" fill="#C05850" opacity="0.56"/>
<circle cx="649.4" cy="536.5" r="4.62" fill="#45B169"/>
<circle cx="820" cy="536.5" r="5.41" fill="#377EB8"/>
<circle cx="989.4" cy="536.5" r="4.07" fill="#C05850"/>
<circle cx="649.4" cy="557" r="4.76" fill="#45B169"/>
<circle cx="820" cy="557" r="5.75" fill="#377EB8"/>
<circle cx="989.4" cy="557" r="4.16" fill="#C05850"/>
<circle cx="649.4" cy="577.5" r="4.48" fill="#45B169"/>
<circle cx="820" cy="577.5" r="5.07" fill="#377EB8"/>
<circle cx="989.4" cy="577.5" r="3.98" fill="#C05850"/>
<circle cx="649.4" cy="598" r="4.48" fill="#45B169" opacity="0.56"/>
<circle cx="820" cy="598" r="5.07" fill="#377EB8" opacity="0.56"/>
<circle cx="989.4" cy="598" r="3.98" fill="#C05850" opacity="0.56"/>
<circle cx="649.4" cy="618.6" r="4.62" fill="#45B169"/>
<circle cx="820" cy="618.6" r="5.41" fill="#377EB8"/>
<circle cx="989.4" cy="618.6" r="4.07" fill="#C05850"/>
<circle cx="649.4" cy="639.1" r="4.62" fill="#45B169"/>
<circle cx="820" cy="639.1" r="5.41" fill="#377EB8"/>
<circle cx="989.4" cy="639.1" r="4.07" fill="#C05850"/>
<circle cx="649.4" cy="659.6" r="4.62" fill="#45B169"/>
<circle cx="820" cy="659.6" r="5.41" fill="#377EB8"/>
<circle cx="989.4" cy="659.6" r="4.07" fill="#C05850"/>
<circle cx="649.4" cy="680.1" r="4.62" fill="#45B169" opacity="0.56"/>
<circle cx="820" cy="680.1" r="5.41" fill="#377EB8" opacity="0.56"/>
<circle cx="989.4" cy="680.1" r="4.07" fill="#C05850" opacity="0.56"/>
<circle cx="649.4" cy="700.7" r="4.20" fill="#45B169"/>
<circle cx="820" cy="700.7" r="4.40" fill="#377EB8"/>
<circle cx="989.4" cy="700.7" r="3.79" fill="#C05850"/>
<circle cx="649.4" cy="721.2" r="4.62" fill="#45B169"/>
<circle cx="820" cy="721.2" r="5.41" fill="#377EB8"/>
<circle cx="989.4" cy="721.2" r="4.07" fill="#C05850"/>
<circle cx="649.4" cy="741.7" r="4.89" fill="#45B169"/>
<circle cx="820" cy="741.7" r="6.09" fill="#377EB8"/>
<circle cx="989.4" cy="741.7" r="4.26" fill="#C05850"/>
<circle cx="649.4" cy="762.2" r="4.62" fill="#45B169" opacity="0.56"/>
<circle cx="820" cy="762.2" r="5.41" fill="#377EB8" opacity="0.56"/>
<circle cx="989.4" cy="762.2" r="4.07" fill="#C05850" opacity="0.56"/>
<circle cx="649.4" cy="782.8" r="4.76" fill="#45B169"/>
<circle cx="820" cy="782.8" r="5.75" fill="#377EB8"/>
<circle cx="989.4" cy="782.8" r="4.16" fill="#C05850"/>
<circle cx="649.4" cy="803.3" r="4.48" fill="#45B169"/>
<circle cx="820" cy="803.3" r="5.07" fill="#377EB8"/>
<circle cx="989.4" cy="803.3" r="3.98" fill="#C05850"/>
<circle cx="649.4" cy="823.8" r="4.62" fill="#45B169"/>
<circle cx="820" cy="823.8" r="5.41" fill="#377EB8"/>
<circle cx="989.4" cy="823.8" r="4.07" fill="#C05850"/>
<circle cx="649.4" cy="844.4" r="4.62" fill="#45B169" opacity="0.56"/>
<circle cx="820" cy="844.4" r="5.41" fill="#377EB8" opacity="0.56"/>
<circle cx="989.4" cy="844.4" r="4.07" fill="#C05850" opacity="0.56"/>
<circle cx="649.4" cy="864.9" r="4.76" fill="#45B169"/>
<circle cx="820" cy="864.9" r="5.75" fill="#377EB8"/>
<circle cx="989.4" cy="864.9" r="4.16" fill="#C05850"/>
<circle cx="649.4" cy="885.4" r="4.89" fill="#45B169"/>
<circle cx="820" cy="885.4" r="6.09" fill="#377EB8"/>
<circle cx="989.4" cy="885.4" r="4.26" fill="#C05850"/>
<circle cx="649.4" cy="905.9" r="4.76" fill="#45B169"/>
<circle cx="820" cy="905.9" r="5.75" fill="#377EB8"/>
<circle cx="989.4" cy="905.9" r="4.16" fill="#C05850"/>
<circle cx="649.4" cy="926.5" r="4.62" fill="#45B169" opacity="0.56"/>
<circle cx="820" cy="926.5" r="5.41" fill="#377EB8" opacity="0.56"/>
<circle cx="989.4" cy="926.5" r="4.07" fill="#C05850" opacity="0.56"/>
<circle cx="649.4" cy="947" r="4.62" fill="#45B169"/>
<circle cx="820" cy="947" r="5.41" fill="#377EB8"/>
<circle cx="989.4" cy="947" r="4.07" fill="#C05850"/>
<circle cx="649.4" cy="967.5" r="5.45" fill="#45B169"/>
<circle cx="820" cy="967.5" r="7.44" fill="#377EB8"/>
<circle cx="989.4" cy="967.5" r="4.63" fill="#C05850"/>
<circle cx="649.4" cy="988" r="4.20" fill="#45B169"/>
<circle cx="820" cy="988" r="4.40" fill="#377EB8"/>
<circle cx="989.4" cy="988" r="3.79" fill="#C05850"/>
<circle cx="649.4" cy="1008.6" r="5.03" fill="#45B169" opacity="0.56"/>
<circle cx="820" cy="1008.6" r="6.43" fill="#377EB8" opacity="0.56"/>
<circle cx="989.4" cy="1008.6" r="4.35" fill="#C05850" opacity="0.56"/>
<circle cx="649.4" cy="1029.1" r="4.89" fill="#45B169"/>
<circle cx="820" cy="1029.1" r="6.09" fill="#377EB8"/>
<circle cx="989.4" cy="1029.1" r="4.26" fill="#C05850"/>
<circle cx="649.4" cy="1049.6" r="4.20" fill="#45B169"/>
<circle cx="820" cy="1049.6" r="4.40" fill="#377EB8"/>
<circle cx="989.4" cy="1049.6" r="3.79" fill="#C05850"/>
<circle cx="649.4" cy="1070.1" r="5.03" fill="#45B169"/>
<circle cx="820" cy="1070.1" r="6.43" fill="#377EB8"/>
<circle cx="989.4" cy="1070.1" r="4.35" fill="#C05850"/>
<circle cx="649.4" cy="1090.7" r="5.17" fill="#45B169" opacity="0.56"/>
<circle cx="820" cy="1090.7" r="6.76" fill="#377EB8" opacity="0.56"/>
<circle cx="989.4" cy="1090.7" r="4.44" fill="#C05850" opacity="0.56"/>
<circle cx="649.4" cy="1111.2" r="5.31" fill="#45B169"/>
<circle cx="820" cy="1111.2" r="7.10" fill="#377EB8"/>
<circle cx="989.4" cy="1111.2" r="4.54" fill="#C05850"/>
<circle cx="649.4" cy="1131.7" r="5.17" fill="#45B169"/>
<circle cx="820" cy="1131.7" r="6.76" fill="#377EB8"/>
<circle cx="989.4" cy="1131.7" r="4.44" fill="#C05850"/>
<circle cx="649.4" cy="1152.2" r="5.03" fill="#45B169"/>
<circle cx="820" cy="1152.2" r="6.43" fill="#377EB8"/>
<circle cx="989.4" cy="1152.2" r="4.35" fill="#C05850"/>
<circle cx="649.4" cy="1172.8" r="5.03" fill="#45B169" opacity="0.56"/>
<circle cx="820" cy="1172.8" r="6.43" fill="#377EB8" opacity="0.56"/>
<circle cx="989.4" cy="1172.8" r="4.35" fill="#C05850" opacity="0.56"/>
<circle cx="649.4" cy="1193.3" r="5.03" fill="#45B169"/>
<circle cx="820" cy="1193.3" r="6.43" fill="#377EB8"/>
<circle cx="989.4" cy="1193.3" r="4.35" fill="#C05850"/>
<circle cx="649.4" cy="1213.8" r="4.89" fill="#45B169"/>
<circle cx="820" cy="1213.8" r="6.09" fill="#377EB8"/>
<circle cx="989.4" cy="1213.8" r="4.26" fill="#C05850"/>
<circle cx="649.4" cy="1234.3" r="4.76" fill="#45B169"/>
<circle cx="820" cy="1234.3" r="5.75" fill="#377EB8"/>
<circle cx="989.4" cy="1234.3" r="4.16" fill="#C05850"/>
<circle cx="649.4" cy="1254.9" r="4.76" fill="#45B169" opacity="0.56"/>
<circle cx="820" cy="1254.9" r="5.75" fill="#377EB8" opacity="0.56"/>
<circle cx="989.4" cy="1254.9" r="4.16" fill="#C05850" opacity="0.56"/>
<circle cx="649.4" cy="1275.4" r="4.62" fill="#45B169"/>
<circle cx="820" cy="1275.4" r="5.41" fill="#377EB8"/>
<circle cx="989.4" cy="1275.4" r="4.07" fill="#C05850"/>
<circle cx="649.4" cy="1295.9" r="4.62" fill="#45B169"/>
<circle cx="820" cy="1295.9" r="5.41" fill="#377EB8"/>
<circle cx="989.4" cy="1295.9" r="4.07" fill="#C05850"/>
<circle cx="649.4" cy="1316.5" r="4.34" fill="#45B169"/>
<circle cx="820" cy="1316.5" r="4.74" fill="#377EB8"/>
<circle cx="989.4" cy="1316.5" r="3.89" fill="#C05850"/>
<circle cx="649.4" cy="1337" r="4.76" fill="#45B169" opacity="0.56"/>
<circle cx="820" cy="1337" r="5.75" fill="#377EB8" opacity="0.56"/>
<circle cx="989.4" cy="1337" r="4.16" fill="#C05850" opacity="0.56"/>
<circle cx="649.4" cy="1357.5" r="4.48" fill="#45B169"/>
<circle cx="820" cy="1357.5" r="5.07" fill="#377EB8"/>
<circle cx="989.4" cy="1357.5" r="3.98" fill="#C05850"/>
<circle cx="649.4" cy="1378" r="6.43" fill="#45B169"/>
<circle cx="820" cy="1378" r="9.81" fill="#377EB8"/>
<circle cx="989.4" cy="1378" r="5.28" fill="#C05850"/>
<circle cx="649.4" cy="1398.6" r="6.15" fill="#45B169"/>
<circle cx="820" cy="1398.6" r="9.13" fill="#377EB8"/>
<circle cx="989.4" cy="1398.6" r="5.09" fill="#C05850"/>
<circle cx="649.4" cy="1419.1" r="4.62" fill="#45B169" opacity="0.56"/>
<circle cx="820" cy="1419.1" r="5.41" fill="#377EB8" opacity="0.56"/>
<circle cx="989.4" cy="1419.1" r="4.07" fill="#C05850" opacity="0.56"/>
<circle cx="649.4" cy="1439.6" r="5.59" fill="#45B169"/>
<circle cx="820" cy="1439.6" r="7.78" fill="#377EB8"/>
<circle cx="989.4" cy="1439.6" r="4.72" fill="#C05850"/>
<circle cx="649.4" cy="1460.1" r="5.73" fill="#45B169"/>
<circle cx="820" cy="1460.1" r="8.12" fill="#377EB8"/>
<circle cx="989.4" cy="1460.1" r="4.81" fill="#C05850"/>
<circle cx="649.4" cy="1480.7" r="6.01" fill="#45B169"/>
<circle cx="820" cy="1480.7" r="8.79" fill="#377EB8"/>
<circle cx="989.4" cy="1480.7" r="5.00" fill="#C05850"/>
<circle cx="649.4" cy="1501.2" r="5.73" fill="#45B169" opacity="0.56"/>
<circle cx="820" cy="1501.2" r="8.12" fill="#377EB8" opacity="0.56"/>
<circle cx="989.4" cy="1501.2" r="4.81" fill="#C05850" opacity="0.56"/>
<circle cx="649.4" cy="1521.7" r="5.17" fill="#45B169"/>
<circle cx="820" cy="1521.7" r="6.76" fill="#377EB8"/>
<circle cx="989.4" cy="1521.7" r="4.44" fill="#C05850"/>
<circle cx="649.4" cy="1542.2" r="5.59" fill="#45B169"/>
<circle cx="820" cy="1542.2" r="7.78" fill="#377EB8"/>
<circle cx="989.4" cy="1542.2" r="4.72" fill="#C05850"/>
<circle cx="649.4" cy="1562.8" r="5.59" fill="#45B169"/>
<circle cx="820" cy="1562.8" r="7.78" fill="#377EB8"/>
<circle cx="989.4" cy="1562.8" r="4.72" fill="#C05850"/>
<circle cx="649.4" cy="1583.3" r="5.73" fill="#45B169" opacity="0.56"/>
<circle cx="820" cy="1583.3" r="8.12" fill="#377EB8" opacity="0.56"/>
<circle cx="989.4" cy="1583.3" r="4.81" fill="#C05850" opacity="0.56"/>
<circle cx="649.4" cy="1603.8" r="5.45" fill="#45B169"/>
<circle cx="820" cy="1603.8" r="7.44" fill="#377EB8"/>
<circle cx="989.4" cy="1603.8" r="4.63" fill="#C05850"/>
<circle cx="649.4" cy="1624.3" r="5.45" fill="#45B169"/>
<circle cx="820" cy="1624.3" r="7.44" fill="#377EB8"/>
<circle cx="989.4" cy="1624.3" r="4.63" fill="#C05850"/>
<circle cx="649.4" cy="1644.9" r="5.73" fill="#45B169"/>
<circle cx="820" cy="1644.9" r="8.12" fill="#377EB8"/>
<circle cx="989.4" cy="1644.9" r="4.81" fill="#C05850"/>
<circle cx="649.4" cy="1665.4" r="6.29" fill="#45B169" opacity="0.56"/>
<circle cx="820" cy="1665.4" r="9.47" fill="#377EB8" opacity="0.56"/>
<circle cx="989.4" cy="1665.4" r="5.19" fill="#C05850" opacity="0.56"/>
<circle cx="649.4" cy="1685.9" r="5.59" fill="#45B169"/>
<circle cx="820" cy="1685.9" r="7.78" fill="#377EB8"/>
<circle cx="989.4" cy="1685.9" r="4.72" fill="#C05850"/>
<circle cx="649.4" cy="1706.4" r="6.15" fill="#45B169"/>
<circle cx="820" cy="1706.4" r="9.13" fill="#377EB8"/>
<circle cx="989.4" cy="1706.4" r="5.09" fill="#C05850"/>
<circle cx="649.4" cy="1727" r="4.20" fill="#45B169"/>
<circle cx="820" cy="1727" r="4.40" fill="#377EB8"/>
<circle cx="989.4" cy="1727" r="3.79" fill="#C05850"/>
<circle cx="649.4" cy="1747.5" r="4.62" fill="#45B169" opacity="0.56"/>
<circle cx="820" cy="1747.5" r="5.41" fill="#377EB8" opacity="0.56"/>
<circle cx="989.4" cy="1747.5" r="4.07" fill="#C05850" opacity="0.56"/>
<circle cx="649.4" cy="1768" r="4.76" fill="#45B169"/>
<circle cx="820" cy="1768" r="5.75" fill="#377EB8"/>
<circle cx="989.4" cy="1768" r="4.16" fill="#C05850"/>
<circle cx="649.4" cy="1788.5" r="5.87" fill="#45B169"/>
<circle cx="820" cy="1788.5" r="8.46" fill="#377EB8"/>
<circle cx="989.4" cy="1788.5" r="4.91" fill="#C05850"/>
<circle cx="649.4" cy="1809.1" r="5.87" fill="#45B169"/>
<circle cx="820" cy="1809.1" r="8.46" fill="#377EB8"/>
<circle cx="989.4" cy="1809.1" r="4.91" fill="#C05850"/>
<circle cx="649.4" cy="1829.6" r="4.34" fill="#45B169" opacity="0.56"/>
<circle cx="820" cy="1829.6" r="4.74" fill="#377EB8" opacity="0.56"/>
<circle cx="989.4" cy="1829.6" r="3.89" fill="#C05850" opacity="0.56"/>
<circle cx="649.4" cy="1850.1" r="4.34" fill="#45B169"/>
<circle cx="820" cy="1850.1" r="4.74" fill="#377EB8"/>
<circle cx="989.4" cy="1850.1" r="3.89" fill="#C05850"/>
<circle cx="649.4" cy="1870.7" r="4.34" fill="#45B169"/>
<circle cx="820" cy="1870.7" r="4.74" fill="#377EB8"/>
<circle cx="989.4" cy="1870.7" r="3.89" fill="#C05850"/>
<circle cx="649.4" cy="1891.2" r="4.34" fill="#45B169"/>
<circle cx="820" cy="1891.2" r="4.74" fill="#377EB8"/>
<circle cx="989.4" cy="1891.2" r="3.89" fill="#C05850"/>
<circle cx="649.4" cy="1911.7" r="4.34" fill="#45B169" opacity="0.56"/>
<circle cx="820" cy="1911.7" r="4.74" fill="#377EB8" opacity="0.56"/>
<circle cx="989.4" cy="1911.7" r="3.89" fill="#C05850" opacity="0.56"/>
<circle cx="649.4" cy="1932.2" r="4.34" fill="#45B169"/>
<circle cx="820" cy="1932.2" r="4.74" fill="#377EB8"/>
<circle cx="989.4" cy="1932.2" r="3.89" fill="#C05850"/>
<text transform="translate(656.9,1982.5) rotate(-45)" text-anchor="end" font-size="30.5" fill="#000">ARG</text>
<text transform="translate(827.5,1982.5) rotate(-45)" text-anchor="end" font-size="30.5" fill="#000">VFDB</text>
<text transform="translate(996.9,1982.5) rotate(-45)" text-anchor="end" font-size="30.5" fill="#000">MGE</text>
<g font-weight="bold" fill="#000">
<text x="1133" y="278.2" font-size="37.5">Taxonomy</text>
<text x="1131.5" y="1304.9" font-size="36">Bubble Size</text>
<text x="1131.5" y="1647.5" font-size="37.3">MAG abundance</text>
</g>
<g font-size="28" fill="#000">
<circle cx="1144.7" cy="313.8" r="16" fill="#4DB1CB"/>
<text x="1168.4" y="321.7">p__Chloroflexota</text>
<circle cx="1144.7" cy="358.5" r="16" fill="#139C82"/>
<text x="1168.4" y="366.4">p__Patescibacteriota</text>
<circle cx="1144.7" cy="403.2" r="16" fill="#3C5488"/>
<text x="1168.4" y="411.1">p__Bacteroidota</text>
<circle cx="1144.7" cy="447.9" r="16" fill="#EB977C"/>
<text x="1168.4" y="455.8">p__Verrucomicrobiota</text>
<circle cx="1144.7" cy="492.6" r="16" fill="#8491B4"/>
<text x="1168.4" y="500.5">p__Acidobacteriota</text>
<circle cx="1144.7" cy="537.3" r="16" fill="#91D1C2"/>
<text x="1168.4" y="545.2">p__Bdellovibrionota</text>
<circle cx="1144.7" cy="582" r="16" fill="#D0121E"/>
<text x="1168.4" y="589.9">p__Myxococcota</text>
<circle cx="1144.7" cy="626.7" r="16" fill="#7E6148"/>
<text x="1168.4" y="634.6">p__Proteobacteria</text>
<circle cx="1144.7" cy="671.4" r="16" fill="#C9C6CC"/>
<text x="1168.4" y="679.3">p__Actinomycetota</text>
</g>
<rect x="1141.7" y="1333.2" width="36.7" height="195.1" rx="6" fill="#EBEBEB"/>
<g font-size="28.8" fill="#000">
<circle cx="1160.2" cy="1346.8" r="3.2" fill="#6B6B6B"/>
<text x="1188.8" y="1355.3">42</text>
<circle cx="1160.2" cy="1374.7" r="4.9" fill="#6B6B6B"/>
<text x="1188.8" y="1383.5">242</text>
<circle cx="1160.2" cy="1405.6" r="6.2" fill="#6B6B6B"/>
<text x="1188.8" y="1414.4">442</text>
<circle cx="1160.2" cy="1437.4" r="7.1" fill="#6B6B6B"/>
<text x="1188.8" y="1446.2">642</text>
<circle cx="1160.2" cy="1472.8" r="8.4" fill="#6B6B6B"/>
<text x="1188.8" y="1481.6">842</text>
<circle cx="1160.2" cy="1510.5" r="9.7" fill="#6B6B6B"/>
<text x="1188.8" y="1519.2">1042</text>
</g>
<defs><linearGradient id="cb" x1="0" y1="0" x2="0" y2="1"><stop offset="0" stop-color="#EC6A40"/><stop offset="0.25" stop-color="#F3A88C"/><stop offset="0.53" stop-color="#FFFFFF"/><stop offset="0.76" stop-color="#A9C4E6"/><stop offset="1" stop-color="#3F8FD2"/></linearGradient></defs>
<rect x="1141.7" y="1669.2" width="47.1" height="224.4" fill="url(#cb)"/>
<g font-size="28" fill="#000">
<path d="M1188.8 1687.4H1195.3" stroke="#888" stroke-width="1.2"/>
<text x="1203.4" y="1696.2">60000</text>
<path d="M1188.8 1723.8H1195.3" stroke="#888" stroke-width="1.2"/>
<text x="1203.4" y="1732.5">50000</text>
<path d="M1188.8 1759.5H1195.3" stroke="#888" stroke-width="1.2"/>
<text x="1203.4" y="1768.6">40000</text>
<path d="M1188.8 1796.2H1195.3" stroke="#888" stroke-width="1.2"/>
<text x="1203.4" y="1805">30000</text>
<path d="M1188.8 1831.9H1195.3" stroke="#888" stroke-width="1.2"/>
<text x="1203.4" y="1840.7">20000</text>
<path d="M1188.8 1868.3H1195.3" stroke="#888" stroke-width="1.2"/>
<text x="1203.4" y="1877">10000</text>
<path d="M1188.8 1894H1195.3" stroke="#888" stroke-width="1.2"/>
<text x="1203.4" y="1910.5">0</text>
</g>
<text x="30.6" y="126.8" font-size="80" font-weight="bold">a</text>
</g>
<g id="panel-b">
<text x="1.2" y="2127.3" font-size="80" font-weight="bold">b</text>
<text x="41" y="2257.3" font-size="34">MAG19</text>
<text x="169.5" y="2257.3" font-size="34" font-style="italic">Pseudomonas</text>
<rect x="39.8" y="2273.6" width="1242.6" height="389.4" fill="none" stroke="#D98B68" stroke-width="1.4" stroke-dasharray="4.2 3.8"/>
<path d="M84.6 2363.6H1226.3" stroke="#BDBDBD" stroke-width="3.2" fill="none"/>
<polygon points="106.4,2349.7 132.1,2349.7 151.6,2363.5 132.1,2377.3 106.4,2377.3" fill="#E2786D" stroke="#7d7d7d" stroke-width="0.9" stroke-linejoin="miter"/>
<polygon points="154.3,2349.7 174.2,2349.7 193.7,2363.5 174.2,2377.3 154.3,2377.3" fill="#E2786D" stroke="#7d7d7d" stroke-width="0.9" stroke-linejoin="miter"/>
<polygon points="194.5,2349.7 231.5,2349.7 251,2363.5 231.5,2377.3 194.5,2377.3" fill="#E2786D" stroke="#7d7d7d" stroke-width="0.9" stroke-linejoin="miter"/>
<polygon points="266.6,2349.7 460.7,2349.7 481,2363.5 460.7,2377.3 266.6,2377.3" fill="#E2786D" stroke="#7d7d7d" stroke-width="0.9" stroke-linejoin="miter"/>
<polygon points="500,2349.7 1094.3,2349.7 1113.5,2363.5 1094.3,2377.3 500,2377.3" fill="#6FC4C7" stroke="#7d7d7d" stroke-width="0.9" stroke-linejoin="miter"/>
<polygon points="1113.5,2349.7 1142.6,2349.7 1161.8,2363.5 1142.6,2377.3 1113.5,2377.3" fill="#E2786D" stroke="#7d7d7d" stroke-width="0.9" stroke-linejoin="miter"/>
<path d="M84.6 2414.7H1226.7M84.6 2414.7V2423.3M188.4 2414.7V2423.3M292.3 2414.7V2423.3M396.1 2414.7V2423.3M499.9 2414.7V2423.3M603.8 2414.7V2423.3M707.6 2414.7V2423.3M811.4 2414.7V2423.3M915.2 2414.7V2423.3M1019.1 2414.7V2423.3M1122.9 2414.7V2423.3M1226.7 2414.7V2423.3" stroke="#2a2a2a" stroke-width="1.3" fill="none"/>
<g font-size="16.5" text-anchor="middle" fill="#000">
<text x="82.8" y="2438.5">2000</text>
<text x="186.6" y="2438.5">3000</text>
<text x="290.5" y="2438.5">4000</text>
<text x="394.3" y="2438.5">5000</text>
<text x="498.1" y="2438.5">6000</text>
<text x="602" y="2438.5">7000</text>
<text x="705.8" y="2438.5">8000</text>
<text x="809.6" y="2438.5">9000</text>
<text x="913.4" y="2438.5">10000</text>
<text x="1017.3" y="2438.5">11000</text>
<text x="1121.1" y="2438.5">12000</text>
<text x="1224.9" y="2438.5">13000</text>
</g>
<text x="260.7" y="2340.3" font-size="16.6" text-anchor="middle">Type IV pili (VF0082)</text>
<text x="797" y="2344.9" font-size="16.6" text-anchor="middle">transposase/Type IV pili (VF0082)</text>
<text x="1136.5" y="2342.6" font-size="16.6" text-anchor="middle">Type IV pili (VF0082)</text>
<path d="M76 2543.8H1230.2" stroke="#BDBDBD" stroke-width="3.2" fill="none"/>
<polygon points="81,2543.5 97,2529.7 238.5,2529.7 238.5,2557.3 97,2557.3" fill="#F4F3A9" stroke="#7d7d7d" stroke-width="0.9" stroke-linejoin="miter"/>
<polygon points="536.7,2543.5 554.2,2529.7 897.7,2529.7 897.7,2557.3 554.2,2557.3" fill="#B9B4D7" stroke="#7d7d7d" stroke-width="0.9" stroke-linejoin="miter"/>
<polygon points="1032.8,2543.5 1044.3,2529.7 1130.3,2529.7 1130.3,2557.3 1044.3,2557.3" fill="#E2786D" stroke="#7d7d7d" stroke-width="0.9" stroke-linejoin="miter"/>
<polygon points="1130.3,2543.5 1141.9,2529.7 1190.2,2529.7 1190.2,2557.3 1141.9,2557.3" fill="#E2786D" stroke="#7d7d7d" stroke-width="0.9" stroke-linejoin="miter"/>
<path d="M85.2 2595.2H1227.3M85.2 2595.2V2603.8M189 2595.2V2603.8M292.9 2595.2V2603.8M396.7 2595.2V2603.8M500.5 2595.2V2603.8M604.4 2595.2V2603.8M708.2 2595.2V2603.8M812 2595.2V2603.8M915.8 2595.2V2603.8M1019.7 2595.2V2603.8M1123.5 2595.2V2603.8M1227.3 2595.2V2603.8" stroke="#2a2a2a" stroke-width="1.3" fill="none"/>
<g font-size="16.5" text-anchor="middle" fill="#000">
<text x="83.4" y="2619">2000</text>
<text x="187.2" y="2619">3000</text>
<text x="291.1" y="2619">4000</text>
<text x="394.9" y="2619">5000</text>
<text x="498.7" y="2619">6000</text>
<text x="602.6" y="2619">7000</text>
<text x="706.4" y="2619">8000</text>
<text x="810.2" y="2619">9000</text>
<text x="914" y="2619">10000</text>
<text x="1017.9" y="2619">11000</text>
<text x="1121.7" y="2619">12000</text>
<text x="1225.5" y="2619">13000</text>
</g>
<text x="163" y="2525" font-size="16.6" text-anchor="middle">recombinase_A</text>
<text x="740.2" y="2504.6" font-size="25" font-weight="bold" text-anchor="middle">Multidrug</text>
<text x="728" y="2524.5" font-size="16.6" text-anchor="middle">MexF</text>
<text x="1118.8" y="2525.3" font-size="16.6" text-anchor="middle">Alginate (VF0091)</text>
<text x="39.7" y="2827.8" font-size="34">MAG62</text>
<text x="170.3" y="2827.8" font-size="34" font-style="italic">Variovorax</text>
<rect x="44" y="2860.7" width="1243" height="389.5" fill="none" stroke="#D98B68" stroke-width="1.4" stroke-dasharray="4.2 3.8"/>
<path d="M82.6 2947.6H1257" stroke="#BDBDBD" stroke-width="3.2" fill="none"/>
<polygon points="82.6,2947.1 103.3,2933.3 300.9,2933.3 300.9,2960.9 103.3,2960.9" fill="#A7D5C0" stroke="#7d7d7d" stroke-width="0.9" stroke-linejoin="miter"/>
<polygon points="477,2930.3 675.7,2930.3 695,2944.1 675.7,2957.9 477,2957.9" fill="#A7D5C0" stroke="#7d7d7d" stroke-width="0.9" stroke-linejoin="miter"/>
<polygon points="825.5,2947.1 846.2,2933.3 1169.5,2933.3 1169.5,2960.9 846.2,2960.9" fill="#B9B4D7" stroke="#7d7d7d" stroke-width="0.9" stroke-linejoin="miter"/>
<path d="M82.6 3000.6H1257.2M82.6 3000.6V3009.2M250.4 3000.6V3009.2M418.2 3000.6V3009.2M586 3000.6V3009.2M753.8 3000.6V3009.2M921.6 3000.6V3009.2M1089.4 3000.6V3009.2M1257.2 3000.6V3009.2" stroke="#2a2a2a" stroke-width="1.3" fill="none"/>
<g font-size="16.5" text-anchor="middle" fill="#000">
<text x="80.8" y="3024.4">0</text>
<text x="248.6" y="3024.4">500</text>
<text x="416.4" y="3024.4">1000</text>
<text x="584.2" y="3024.4">1500</text>
<text x="752" y="3024.4">2000</text>
<text x="919.8" y="3024.4">2500</text>
<text x="1087.6" y="3024.4">3000</text>
</g>
<text x="196.8" y="2901.8" font-size="25" font-weight="bold" text-anchor="middle">Tetracycline</text>
<text x="183" y="2924.2" font-size="16.6" text-anchor="middle">transposase/tetB(60)</text>
<text x="555" y="2901.8" font-size="25" font-weight="bold" text-anchor="middle">Tetracycline</text>
<text x="558.7" y="2924.2" font-size="16.6" text-anchor="middle">transposase/tetA(58)</text>
<text x="1002" y="2901.8" font-size="25" font-weight="bold" text-anchor="middle">Multidrug</text>
<text x="997.5" y="2924.2" font-size="16.6" text-anchor="middle">MexT</text>
<path d="M67 3124.2H1249.4" stroke="#BDBDBD" stroke-width="3.2" fill="none"/>
<polygon points="421.3,3110.2 702.6,3110.2 722.6,3124 702.6,3137.8 421.3,3137.8" fill="#E2786D" stroke="#7d7d7d" stroke-width="0.9" stroke-linejoin="miter"/>
<polygon points="735.6,3110.2 1019.8,3110.2 1038.2,3124 1019.8,3137.8 735.6,3137.8" fill="#6FC4C7" stroke="#7d7d7d" stroke-width="0.9" stroke-linejoin="miter"/>
<polygon points="1038.2,3110.2 1082.7,3110.2 1103.5,3124 1082.7,3137.8 1038.2,3137.8" fill="#E2786D" stroke="#7d7d7d" stroke-width="0.9" stroke-linejoin="miter"/>
<path d="M67.4 3176.8H1249.4M67.4 3176.8V3185.4M236.2 3176.8V3185.4M405.1 3176.8V3185.4M573.9 3176.8V3185.4M742.8 3176.8V3185.4M911.6 3176.8V3185.4M1080.5 3176.8V3185.4M1249.4 3176.8V3185.4" stroke="#2a2a2a" stroke-width="1.3" fill="none"/>
<g font-size="16.5" text-anchor="middle" fill="#000">
<text x="65.6" y="3200.6">0</text>
<text x="234.4" y="3200.6">500</text>
<text x="403.3" y="3200.6">1000</text>
<text x="572.1" y="3200.6">1500</text>
<text x="741" y="3200.6">2000</text>
<text x="909.9" y="3200.6">2500</text>
<text x="1078.7" y="3200.6">3000</text>
<text x="1247.6" y="3200.6">3500</text>
</g>
<text x="580" y="3106" font-size="16.6" text-anchor="middle">Capsule (VF0560)</text>
<text x="864.7" y="3106" font-size="16.6" text-anchor="middle">transposase/Capsule (VF0560)</text>
<text x="1064.3" y="3106" font-size="16.6" text-anchor="middle">Capsule (VF0560)</text>
<g font-size="29.5">
<circle cx="166.2" cy="3291.6" r="16.6" fill="#F4F3A9" stroke="#8a8a8a" stroke-width="0.9"/>
<text x="190.8" y="3300.5">MGE</text>
<circle cx="347.5" cy="3291.6" r="16.6" fill="#B9B4D7" stroke="#8a8a8a" stroke-width="0.9"/>
<text x="372.8" y="3300.5">ARG</text>
<circle cx="526.4" cy="3291.6" r="16.6" fill="#E2786D" stroke="#8a8a8a" stroke-width="0.9"/>
<text x="552" y="3300.5">VFs</text>
<circle cx="675.5" cy="3291.6" r="16.6" fill="#6FC4C7" stroke="#8a8a8a" stroke-width="0.9"/>
<text x="699.6" y="3300.5">MGE/VFs</text>
<circle cx="884.6" cy="3291.6" r="16.6" fill="#A7D5C0" stroke="#8a8a8a" stroke-width="0.9"/>
<text x="910" y="3300.5">MGE/ARG</text>
</g>
<text x="1366.4" y="2414.4" font-size="34">MAG41</text>
<text x="1494.5" y="2414.4" font-size="34" font-style="italic">Pseudomonas</text>
<path d="M1409.5 2497.4H2558" stroke="#BDBDBD" stroke-width="3.2" fill="none"/>
<polygon points="1443.4,2497.5 1464.6,2482.4 1516.7,2482.4 1516.7,2512.6 1464.6,2512.6" fill="#E2786D" stroke="#7d7d7d" stroke-width="0.9" stroke-linejoin="miter"/>
<polygon points="1532.6,2497.5 1547.7,2482.4 1562.8,2482.4 1562.8,2512.6 1547.7,2512.6" fill="#E2786D" stroke="#7d7d7d" stroke-width="0.9" stroke-linejoin="miter"/>
<polygon points="1570.3,2482.4 1663.2,2482.4 1673.8,2497.5 1663.2,2512.6 1570.3,2512.6" fill="#F4F3A9" stroke="#7d7d7d" stroke-width="0.9" stroke-linejoin="miter"/>
<polygon points="1751.5,2482.4 1770.4,2482.4 1781.7,2497.5 1770.4,2512.6 1751.5,2512.6" fill="#B9B4D7" stroke="#7d7d7d" stroke-width="0.9" stroke-linejoin="miter"/>
<polygon points="1873.9,2497.5 1885.2,2482.4 2012.8,2482.4 2012.8,2512.6 1885.2,2512.6" fill="#F4F3A9" stroke="#7d7d7d" stroke-width="0.9" stroke-linejoin="miter"/>
<polygon points="2262.7,2497.5 2283.9,2482.4 2407.7,2482.4 2407.7,2512.6 2283.9,2512.6" fill="#B9B4D7" stroke="#7d7d7d" stroke-width="0.9" stroke-linejoin="miter"/>
<path d="M1411 2548.6H2552M1411 2548.6V2557.2M1537.8 2548.6V2557.2M1664.6 2548.6V2557.2M1791.3 2548.6V2557.2M1918.1 2548.6V2557.2M2044.9 2548.6V2557.2M2171.7 2548.6V2557.2M2298.5 2548.6V2557.2M2425.2 2548.6V2557.2M2552 2548.6V2557.2" stroke="#2a2a2a" stroke-width="1.3" fill="none"/>
<g font-size="16.5" text-anchor="middle" fill="#000">
<text x="1409.7" y="2582.3">14000</text>
<text x="1536.5" y="2582.3">16000</text>
<text x="1663.3" y="2582.3">18000</text>
<text x="1790" y="2582.3">20000</text>
<text x="1916.8" y="2582.3">22000</text>
<text x="2043.6" y="2582.3">24000</text>
<text x="2170.4" y="2582.3">26000</text>
<text x="2297.2" y="2582.3">28000</text>
<text x="2423.9" y="2582.3">30000</text>
<text x="2550.7" y="2582.3">32000</text>
</g>
<text x="1500" y="2474.7" font-size="16.6" text-anchor="middle">Alginate (VF0091)</text>
<text x="1619.4" y="2475.4" font-size="16.6" text-anchor="middle">transposase</text>
<text x="1765.9" y="2460" font-size="25" font-weight="bold" text-anchor="middle">Multidrug</text>
<text x="1762" y="2478.4" font-size="16.6" text-anchor="middle">soxR</text>
<text x="1942.6" y="2478.4" font-size="16.6" text-anchor="middle">transposase</text>
<text x="2345" y="2460" font-size="25" font-weight="bold" text-anchor="middle">Peptide</text>
<text x="2345" y="2478.4" font-size="16.6" text-anchor="middle">arnA</text>
<text x="1368.7" y="2737.6" font-size="34">MAG43</text>
<text x="1499" y="2737.6" font-size="34" font-style="italic">Rhodococcus</text>
<path d="M1406.4 2820.1H2542.1" stroke="#BDBDBD" stroke-width="3.2" fill="none"/>
<polygon points="1500,2820.1 1521.2,2805.3 1542.4,2805.3 1542.4,2834.8 1521.2,2834.8" fill="#F4F3A9" stroke="#7d7d7d" stroke-width="0.9" stroke-linejoin="miter"/>
<polygon points="1546.1,2820.1 1565,2805.3 1600.5,2805.3 1600.5,2834.8 1565,2834.8" fill="#E2786D" stroke="#7d7d7d" stroke-width="0.9" stroke-linejoin="miter"/>
<polygon points="1602,2820.1 1619.4,2805.3 1627,2805.3 1627,2834.8 1619.4,2834.8" fill="#E2786D" stroke="#7d7d7d" stroke-width="0.9" stroke-linejoin="miter"/>
<polygon points="1873.1,2820.1 1893.5,2805.3 1899.5,2805.3 1899.5,2834.8 1893.5,2834.8" fill="#A7D5C0" stroke="#7d7d7d" stroke-width="0.9" stroke-linejoin="miter"/>
<polygon points="1963,2820.1 1971.3,2805.3 1971.3,2805.3 1971.3,2834.8 1971.3,2834.8" fill="#B9B4D7" stroke="#7d7d7d" stroke-width="0.9" stroke-linejoin="miter"/>
<polygon points="2156.3,2805.3 2193.3,2805.3 2213.7,2820.1 2193.3,2834.8 2156.3,2834.8" fill="#E2786D" stroke="#7d7d7d" stroke-width="0.9" stroke-linejoin="miter"/>
<polygon points="2331.5,2805.3 2331.5,2805.3 2348.8,2820.1 2331.5,2834.8 2331.5,2834.8" fill="#E2786D" stroke="#7d7d7d" stroke-width="0.9" stroke-linejoin="miter"/>
<path d="M1413.2 2868.4H2541.4M1413.2 2868.4V2877M1526 2868.4V2877M1638.8 2868.4V2877M1751.7 2868.4V2877M1864.5 2868.4V2877M1977.3 2868.4V2877M2090.1 2868.4V2877M2202.9 2868.4V2877M2315.8 2868.4V2877M2428.6 2868.4V2877M2541.4 2868.4V2877" stroke="#2a2a2a" stroke-width="1.3" fill="none"/>
<g font-size="16.5" text-anchor="middle" fill="#000">
<text x="1410.8" y="2892.2">20000</text>
<text x="1523.6" y="2892.2">25000</text>
<text x="1636.4" y="2892.2">30000</text>
<text x="1749.3" y="2892.2">35000</text>
<text x="1862.1" y="2892.2">40000</text>
<text x="1974.9" y="2892.2">45000</text>
<text x="2087.7" y="2892.2">50000</text>
<text x="2200.5" y="2892.2">55000</text>
<text x="2313.4" y="2892.2">60000</text>
<text x="2426.2" y="2892.2">65000</text>
<text x="2539" y="2892.2">70000</text>
</g>
<text x="1493.3" y="2799.2" font-size="16.6" text-anchor="middle">transposase</text>
<text x="1613.3" y="2799.2" font-size="16.6" text-anchor="middle">PhoP (VF0286)</text>
<text x="1871.6" y="2781.4" font-size="25" font-weight="bold" text-anchor="middle">Elfamycin</text>
<text x="2031.7" y="2781.4" font-size="25" font-weight="bold" text-anchor="middle">Aminoglycoside</text>
<text x="1856.5" y="2802.9" font-size="16.6" text-anchor="middle">IS630/Pros_EFTu_GE2A</text>
<text x="2015.8" y="2802.9" font-size="16.6" text-anchor="middle">Mtub_rpsL_STR</text>
<text x="2329.2" y="2796.9" font-size="16.6" text-anchor="middle">AhpC (VF0306)</text>
<text x="2202.3" y="2852.8" font-size="16.6" text-anchor="middle">Proteasome-associated proteins (VF0847)</text>
<text x="1360.4" y="3067.7" font-size="34">MAG45</text>
<text x="1490" y="3067.7" font-size="34" font-style="italic">Variovorax</text>
<path d="M1409.5 3147.8H2583.6" stroke="#BDBDBD" stroke-width="3.2" fill="none"/>
<polygon points="1425.3,3133.1 1445.7,3133.1 1464.6,3147.4 1445.7,3161.7 1425.3,3161.7" fill="#B9B4D7" stroke="#7d7d7d" stroke-width="0.9" stroke-linejoin="miter"/>
<polygon points="1471.4,3133.1 1630,3133.1 1651.1,3147.4 1630,3161.7 1471.4,3161.7" fill="#F4F3A9" stroke="#7d7d7d" stroke-width="0.9" stroke-linejoin="miter"/>
<polygon points="1685.1,3147.4 1706.2,3133.1 1790.8,3133.1 1790.8,3161.7 1706.2,3161.7" fill="#B9B4D7" stroke="#7d7d7d" stroke-width="0.9" stroke-linejoin="miter"/>
<polygon points="1902.5,3133.1 1971.3,3133.1 1992.4,3147.4 1971.3,3161.7 1902.5,3161.7" fill="#A7D5C0" stroke="#7d7d7d" stroke-width="0.9" stroke-linejoin="miter"/>
<polygon points="2058.1,3133.1 2299,3133.1 2319.4,3147.4 2299,3161.7 2058.1,3161.7" fill="#A7D5C0" stroke="#7d7d7d" stroke-width="0.9" stroke-linejoin="miter"/>
<path d="M1405.5 3196.1H2579.6M1405.5 3196.1V3204.7M1536 3196.1V3204.7M1666.4 3196.1V3204.7M1796.8 3196.1V3204.7M1927.3 3196.1V3204.7M2057.8 3196.1V3204.7M2188.2 3196.1V3204.7M2318.6 3196.1V3204.7M2449.1 3196.1V3204.7M2579.6 3196.1V3204.7" stroke="#2a2a2a" stroke-width="1.3" fill="none"/>
<g font-size="16.5" text-anchor="middle" fill="#000">
<text x="1408.5" y="3219.8">0</text>
<text x="1539" y="3219.8">1000</text>
<text x="1669.4" y="3219.8">2000</text>
<text x="1799.8" y="3219.8">3000</text>
<text x="1930.3" y="3219.8">4000</text>
<text x="2060.8" y="3219.8">5000</text>
<text x="2191.2" y="3219.8">6000</text>
<text x="2321.6" y="3219.8">7000</text>
<text x="2452.1" y="3219.8">8000</text>
<text x="2582.6" y="3219.8">9000</text>
</g>
<text x="1432.1" y="3106.3" font-size="25" font-weight="bold" text-anchor="middle">Multidrug</text>
<text x="1436.7" y="3128.5" font-size="16.6" text-anchor="middle">mlaF</text>
<text x="1547.7" y="3128.5" font-size="16.6" text-anchor="middle">Tn3</text>
<text x="1753" y="3106.3" font-size="25" font-weight="bold" text-anchor="middle">Glycopeptide</text>
<text x="1762.9" y="3128.5" font-size="16.6" text-anchor="middle">vanH gene in vanP cluster</text>
<text x="1957.7" y="3106.3" font-size="25" font-weight="bold" text-anchor="middle">Tetracycline</text>
<text x="1944.1" y="3128.5" font-size="16.6" text-anchor="middle">transposase/tetA(58)</text>
<text x="2170.6" y="3106.3" font-size="25" font-weight="bold" text-anchor="middle">Multidrug</text>
<text x="2169.1" y="3128.5" font-size="16.6" text-anchor="middle">transposase/optrA</text>
</g>
<g id="panel-c">
<polygon points="1814,216.6 1917.6,216.6 2126.2,364.8 2231,364.8" fill="#EE6A4E" fill-opacity="0.6"/>
<polygon points="2427,751.3 2486.3,751.3 1557.6,900.4 1609.8,900.4" fill="#EE6A4E" fill-opacity="0.6" stroke="#E4573D" stroke-width="0.8" stroke-opacity="0.8"/>
<polygon points="2324.6,751.3 2433.1,751.3 1784.3,900.4 1894.3,900.4" fill="#EE6A4E" fill-opacity="0.6" stroke="#E4573D" stroke-width="0.8" stroke-opacity="0.8"/>
<polygon points="2110.6,1290.1 2227.2,1290.1 1745.9,1438.9 1862.9,1438.9" fill="#EE6A4E" fill-opacity="0.6" stroke="#E4573D" stroke-width="0.8" stroke-opacity="0.8"/>
<polygon points="1558.2,1870.6 1639.5,1870.6 2095,2022.1 2011.2,2022.1" fill="#EE6A4E" fill-opacity="0.6" stroke="#E4573D" stroke-width="0.8" stroke-opacity="0.8"/>
<text x="1457.3" y="126" font-size="80.5" font-weight="bold">c</text>
<rect x="1557.8" y="156.3" width="928.5" height="60.3" fill="#F3F3F3"/>
<polygon points="1557.9,163.3 1568.7,163.3 1568.7,156.3 1579.7,171.3 1568.7,186.3 1568.7,179.3 1557.9,179.3" fill="#A9D3E6"/>
<polygon points="1579.7,156.3 1592.1,171.3 1579.7,186.3" fill="#A9D3E6"/>
<polygon points="1592.1,163.3 1628,163.3 1628,156.3 1640,171.3 1628,186.3 1628,179.3 1592.1,179.3" fill="#A9D3E6"/>
<polygon points="1640,163.3 1670.3,163.3 1670.3,156.3 1682.7,171.3 1670.3,186.3 1670.3,179.3 1640,179.3" fill="#A9D3E6"/>
<polygon points="1684.3,163.3 1711.7,163.3 1711.7,156.3 1723.4,171.3 1711.7,186.3 1711.7,179.3 1684.3,179.3" fill="#A9D3E6"/>
<polygon points="1723.4,156.3 1737.1,171.3 1723.4,186.3" fill="#A9D3E6"/>
<polygon points="1744.3,163.3 1764.1,163.3 1764.1,156.3 1776.2,171.3 1764.1,186.3 1764.1,179.3 1744.3,179.3" fill="#A9D3E6"/>
<polygon points="1779.4,163.3 1783.3,163.3 1783.3,156.3 1795.7,171.3 1783.3,186.3 1783.3,179.3 1779.4,179.3" fill="#A9D3E6"/>
<polygon points="1800,163.3 1905.8,163.3 1905.8,156.3 1917.9,171.3 1905.8,186.3 1905.8,179.3 1800,179.3" fill="#A9D3E6"/>
<polygon points="2307.9,163.3 2343.4,163.3 2343.4,156.3 2355.9,171.3 2343.4,186.3 2343.4,179.3 2307.9,179.3" fill="#A9D3E6"/>
<polygon points="2363.5,163.3 2372.2,163.3 2372.2,156.3 2384.4,171.3 2372.2,186.3 2372.2,179.3 2363.5,179.3" fill="#A9D3E6"/>
<polygon points="2390,163.3 2413.3,163.3 2413.3,156.3 2425.5,171.3 2413.3,186.3 2413.3,179.3 2390,179.3" fill="#A9D3E6"/>
<polygon points="2438.3,163.3 2447.7,163.3 2447.7,156.3 2460.2,171.3 2447.7,186.3 2447.7,179.3 2438.3,179.3" fill="#A9D3E6"/>
<polygon points="1924.4,201.4 1936.5,186.4 1936.5,193.4 1956.3,193.4 1956.3,209.4 1936.5,209.4 1936.5,216.4" fill="#95CD8F"/>
<polygon points="1959.6,201.4 1971.7,186.4 1971.7,193.4 2027.7,193.4 2027.7,209.4 1971.7,209.4 1971.7,216.4" fill="#95CD8F"/>
<polygon points="2067.7,201.4 2078.8,186.4 2078.8,216.4" fill="#95CD8F"/>
<polygon points="2106.1,201.4 2118.3,186.4 2118.3,193.4 2154.1,193.4 2154.1,209.4 2118.3,209.4 2118.3,216.4" fill="#95CD8F"/>
<polygon points="2154.1,201.4 2165.9,186.4 2165.9,193.4 2168.7,193.4 2168.7,209.4 2165.9,209.4 2165.9,216.4" fill="#95CD8F"/>
<polygon points="2186.1,201.4 2199,186.4 2199,193.4 2218.1,193.4 2218.1,209.4 2199,209.4 2199,216.4" fill="#95CD8F"/>
<polygon points="2266.1,201.4 2276.6,186.4 2276.6,216.4" fill="#95CD8F"/>
<path d="M1557.8 186.3H2486.3M1557.8 156.3V216.6M2486.3 156.3V216.6M2125.9 171.3V186.3" stroke="#1a1a1a" stroke-width="1.2" fill="none"/>
<text transform="translate(1568.7,156.3) rotate(-45)" font-size="14.4">MAG62_gene0639</text>
<text transform="translate(1592.4,156.3) rotate(-45)" font-size="14.4">MAG62_gene0640</text>
<text transform="translate(1617.5,156.3) rotate(-45)" font-size="14.4">MAG62_gene0641</text>
<text transform="translate(1662.5,156.3) rotate(-45)" font-size="14.4">MAG62_gene0642</text>
<text transform="translate(1703.9,156.3) rotate(-45)" font-size="14.4">MAG62_gene0643</text>
<text transform="translate(1730.2,156.3) rotate(-45)" font-size="14.4">MAG62_gene0644</text>
<text transform="translate(1760.2,156.3) rotate(-45)" font-size="14.4">MAG62_gene0645</text>
<text transform="translate(1786.9,156.3) rotate(-45)" font-size="14.4">MAG62_gene0646</text>
<text transform="translate(1858.6,156.3) rotate(-45)" font-size="20" font-weight="bold" fill="#D22B1C">MAG62_gene0647 (87.3)</text>
<text transform="translate(2330.5,158.9) rotate(-45)" font-size="14.4">MAG62_gene0674</text>
<text transform="translate(2372.2,158.9) rotate(-45)" font-size="14.4">MAG62_gene0677</text>
<text transform="translate(2406.3,158.9) rotate(-45)" font-size="14.4">MAG62_gene0678</text>
<text transform="translate(2448,158.9) rotate(-45)" font-size="14.4">MAG62_gene0679</text>
<text transform="translate(2126.7,171.7) rotate(-45)" font-size="17.5">10000</text>
<text transform="translate(1940.1,214.7) rotate(45)" font-size="14.5">MAG62_gene0648</text>
<text transform="translate(1993.8,214.7) rotate(45)" font-size="14.5">MAG62_gene0649</text>
<text transform="translate(2072.6,214.7) rotate(45)" font-size="14.5">MAG62_gene0655</text>
<text transform="translate(2128.8,214.7) rotate(45)" font-size="14.5">MAG62_gene0660</text>
<text transform="translate(2159.6,214.7) rotate(45)" font-size="14.5">MAG62_gene0661</text>
<text transform="translate(2201.3,214.7) rotate(45)" font-size="14.5">MAG62_gene0663</text>
<text transform="translate(2270.8,214.7) rotate(45)" font-size="14.5">MAG62_gene0669</text>
<text x="2342" y="249.6" font-size="22.25" font-weight="bold">MAG62(<tspan font-style="italic">Variovorax paradoxus</tspan>)</text>
<rect x="1557.6" y="364.8" width="673.4" height="61" fill="#F3F3F3"/>
<polygon points="1766.2,372 1780.1,372 1780.1,365 1792,380 1780.1,395 1780.1,388 1766.2,388" fill="#A9D3E6"/>
<polygon points="1796.5,372 1822,372 1822,365 1834.9,380 1822,395 1822,388 1796.5,388" fill="#A9D3E6"/>
<polygon points="1834.9,372 1837.4,372 1837.4,365 1849.3,380 1837.4,395 1837.4,388 1834.9,388" fill="#A9D3E6"/>
<polygon points="1854.1,372 1888,372 1888,365 1900.9,380 1888,395 1888,388 1854.1,388" fill="#A9D3E6"/>
<polygon points="1944.9,372 1969.3,372 1969.3,365 1981.5,380 1969.3,395 1969.3,388 1944.9,388" fill="#A9D3E6"/>
<polygon points="1557.6,410.5 1570.4,395.5 1570.4,402.5 1577,402.5 1577,418.5 1570.4,418.5 1570.4,425.5" fill="#95CD8F"/>
<polygon points="1584.7,410.5 1596.9,395.5 1596.9,402.5 1657.6,402.5 1657.6,418.5 1596.9,418.5 1596.9,425.5" fill="#95CD8F"/>
<polygon points="1664.6,410.5 1676.8,395.5 1676.8,402.5 1758.2,402.5 1758.2,418.5 1676.8,418.5 1676.8,425.5" fill="#95CD8F"/>
<polygon points="1903.7,410.5 1916.3,395.5 1916.3,402.5 1943.8,402.5 1943.8,418.5 1916.3,418.5 1916.3,425.5" fill="#95CD8F"/>
<polygon points="1980.8,410.5 1993.1,395.5 1993.1,402.5 2088.7,402.5 2088.7,418.5 1993.1,418.5 1993.1,425.5" fill="#95CD8F"/>
<polygon points="2093.2,410.5 2105.4,395.5 2105.4,402.5 2123.9,402.5 2123.9,418.5 2105.4,418.5 2105.4,425.5" fill="#95CD8F"/>
<polygon points="2125.3,410.5 2137.5,395.5 2137.5,402.5 2231,402.5 2231,418.5 2137.5,418.5 2137.5,425.5" fill="#95CD8F"/>
<path d="M1557.6 395.2H2231M1557.6 364.8V425.8M2231 364.8V425.8M2125.9 380.2V395.2" stroke="#1a1a1a" stroke-width="1.2" fill="none"/>
<text transform="translate(1779.8,367) rotate(-45)" font-size="14.4">MAG67_gene0070</text>
<text transform="translate(1816.1,367) rotate(-45)" font-size="14.4">MAG67_gene0071</text>
<text transform="translate(1841.9,367) rotate(-45)" font-size="14.4">MAG67_gene0072</text>
<text transform="translate(1878.5,367) rotate(-45)" font-size="14.4">MAG67_gene0073</text>
<text transform="translate(1971.7,367) rotate(-45)" font-size="14.4">MAG67_gene0075</text>
<text transform="translate(2126.7,380.7) rotate(-45)" font-size="17.5">10000</text>
<text transform="translate(1565.8,425.2) rotate(45)" font-size="14.5">MAG67_gene0067</text>
<text transform="translate(1619.8,425.2) rotate(45)" font-size="14.5">MAG67_gene0068</text>
<text transform="translate(1710.6,425.2) rotate(45)" font-size="14.5">MAG67_gene0069</text>
<text transform="translate(1921.8,425.2) rotate(45)" font-size="14.5">MAG67_gene0074</text>
<text transform="translate(2033.4,425.2) rotate(45)" font-size="14.5">MAG67_gene0076</text>
<text transform="translate(2106.8,425.2) rotate(45)" font-size="14.5">MAG67_gene0077</text>
<text transform="translate(2178.7,424.4) rotate(45)" font-size="20" font-weight="bold" fill="#D22B1C">MAG67_gene0078 (87.3)</text>
<text x="2248" y="404.1" font-size="22.25" font-weight="bold">MAG67(<tspan font-style="italic">JAKFDI01 sp.</tspan>)</text>
<rect x="1557.6" y="691" width="928.7" height="60.3" fill="#F3F3F3"/>
<polygon points="1557.6,698.1 1638.8,698.1 1638.8,691.1 1651.7,706.1 1638.8,721.1 1638.8,714.1 1557.6,714.1" fill="#A9D3E6"/>
<polygon points="1658,698.1 1677.9,698.1 1677.9,691.1 1690.1,706.1 1677.9,721.1 1677.9,714.1 1658,714.1" fill="#A9D3E6"/>
<polygon points="1776.3,698.1 1793.8,698.1 1793.8,691.1 1806.3,706.1 1793.8,721.1 1793.8,714.1 1776.3,714.1" fill="#A9D3E6"/>
<polygon points="1891.8,698.1 1982.2,698.1 1982.2,691.1 1994.8,706.1 1982.2,721.1 1982.2,714.1 1891.8,714.1" fill="#A9D3E6"/>
<polygon points="1994.8,698.1 2032.5,698.1 2032.5,691.1 2045.4,706.1 2032.5,721.1 2032.5,714.1 1994.8,714.1" fill="#A9D3E6"/>
<polygon points="2051.4,698.1 2178.1,698.1 2178.1,691.1 2190.3,706.1 2178.1,721.1 2178.1,714.1 2051.4,714.1" fill="#A9D3E6"/>
<polygon points="2190.3,698.1 2285.3,698.1 2285.3,691.1 2298.1,706.1 2285.3,721.1 2285.3,714.1 2190.3,714.1" fill="#A9D3E6"/>
<polygon points="2334,698.1 2415,698.1 2415,691.1 2427.9,706.1 2415,721.1 2415,714.1 2334,714.1" fill="#A9D3E6"/>
<polygon points="2438.3,698.1 2474.2,698.1 2474.2,691.1 2486.3,706.1 2474.2,721.1 2474.2,714.1 2438.3,714.1" fill="#A9D3E6"/>
<polygon points="1708.6,736.2 1721.5,721.2 1721.5,728.2 1738.3,728.2 1738.3,744.2 1721.5,744.2 1721.5,751.2" fill="#95CD8F"/>
<path d="M1557.6 721.2H2486.3M1557.6 691V751.3M2486.3 691V751.3M2290.5 706.2V721.2" stroke="#1a1a1a" stroke-width="1.2" fill="none"/>
<text transform="translate(1604.5,693) rotate(-45)" font-size="14.4">MAG62_gene0721</text>
<text transform="translate(1673.6,693) rotate(-45)" font-size="14.4">MAG62_gene0722</text>
<text transform="translate(1791.2,693) rotate(-45)" font-size="14.4">MAG62_gene0724</text>
<text transform="translate(1943.1,693) rotate(-45)" font-size="14.4">MAG62_gene0725</text>
<text transform="translate(2018.9,693) rotate(-45)" font-size="14.4">MAG62_gene0726</text>
<text transform="translate(2122.4,693) rotate(-45)" font-size="14.4">MAG62_gene0727</text>
<text transform="translate(2244.2,693.7) rotate(-45)" font-size="18.8">MAG62_gene0728</text>
<text transform="translate(2379.9,693.7) rotate(-45)" font-size="20" font-weight="bold" fill="#D22B1C">MAG62_gene0729 (91.6)</text>
<text transform="translate(2462.7,693.7) rotate(-45)" font-size="16.2">MAG62_gene0730</text>
<text transform="translate(2292.9,706.2) rotate(-45)" font-size="17.5">10000</text>
<text transform="translate(1729.1,748.9) rotate(45)" font-size="14.5">MAG62_gene0723</text>
<text x="2342" y="798.3" font-size="22.25" font-weight="bold">MAG62(<tspan font-style="italic">Variovorax paradoxus</tspan>)</text>
<rect x="1557.6" y="900.4" width="436.5" height="60" fill="#F3F3F3"/>
<polygon points="1730.2,907.4 1766.2,907.4 1766.2,900.4 1778.4,915.4 1766.2,930.4 1766.2,923.4 1730.2,923.4" fill="#A9D3E6"/>
<polygon points="1557.6,945.4 1569.7,930.4 1569.7,937.4 1604.9,937.4 1604.9,953.4 1569.7,953.4 1569.7,960.4" fill="#95CD8F"/>
<polygon points="1623.8,945.4 1636,930.4 1636,937.4 1674.4,937.4 1674.4,953.4 1636,953.4 1636,960.4" fill="#95CD8F"/>
<polygon points="1674.4,945.4 1685.9,930.4 1685.9,937.4 1687.6,937.4 1687.6,953.4 1685.9,953.4 1685.9,960.4" fill="#95CD8F"/>
<polygon points="1700.6,945.4 1712.8,930.4 1712.8,960.4" fill="#95CD8F"/>
<polygon points="1789.6,945.4 1802.5,930.4 1802.5,937.4 1882.8,937.4 1882.8,953.4 1802.5,953.4 1802.5,960.4" fill="#95CD8F"/>
<polygon points="1896.7,945.4 1909.3,930.4 1909.3,937.4 1962.3,937.4 1962.3,953.4 1909.3,953.4 1909.3,960.4" fill="#95CD8F"/>
<path d="M1557.6 930.4H1994.1M1557.6 900.4V960.4M1994.1 900.4V960.4" stroke="#1a1a1a" stroke-width="1.2" fill="none"/>
<text transform="translate(1766.8,902.5) rotate(-45)" font-size="14.4">MAG65_gene4453</text>
<text transform="translate(1579.7,960.2) rotate(45)" font-size="14.5">MAG65_gene4449</text>
<text transform="translate(1647.8,960.2) rotate(45)" font-size="14.5">MAG65_gene4450</text>
<text transform="translate(1680.2,960.2) rotate(45)" font-size="14.5">MAG65_gene4451</text>
<text transform="translate(1711.3,960.2) rotate(45)" font-size="14.5">MAG65_gene4452</text>
<text transform="translate(1834.5,959.2) rotate(45)" font-size="20" font-weight="bold" fill="#D22B1C">MAG65_gene4454 (91.6)</text>
<text transform="translate(1927,960.2) rotate(45)" font-size="13.2">MAG65_gene4455</text>
<text x="2011.2" y="938.8" font-size="22.25" font-weight="bold">MAG65(<tspan font-style="italic">Rhizobacter sp.</tspan>)</text>
<rect x="1557.6" y="1229.8" width="928.7" height="60.3" fill="#F3F3F3"/>
<polygon points="1563.7,1237 1648.9,1237 1648.9,1230 1661.1,1245 1648.9,1260 1648.9,1253 1563.7,1253" fill="#A9D3E6"/>
<polygon points="1661.1,1237 1690.1,1237 1690.1,1230 1703,1245 1690.1,1260 1690.1,1253 1661.1,1253" fill="#A9D3E6"/>
<polygon points="1706.1,1237 1824.5,1237 1824.5,1230 1836.7,1245 1824.5,1260 1824.5,1253 1706.1,1253" fill="#A9D3E6"/>
<polygon points="1841.9,1237 1913.5,1237 1913.5,1230 1926.4,1245 1913.5,1260 1913.5,1253 1841.9,1253" fill="#A9D3E6"/>
<polygon points="1927.4,1237 2086.9,1237 2086.9,1230 2099.2,1245 2086.9,1260 2086.9,1253 1927.4,1253" fill="#A9D3E6"/>
<polygon points="2120,1237 2214.6,1237 2214.6,1230 2227.2,1245 2214.6,1260 2214.6,1253 2120,1253" fill="#A9D3E6"/>
<polygon points="2280,1237 2319,1237 2319,1230 2331.5,1245 2319,1260 2319,1253 2280,1253" fill="#A9D3E6"/>
<polygon points="2339.9,1237 2473.8,1237 2473.8,1230 2486.3,1245 2473.8,1260 2473.8,1253 2339.9,1253" fill="#A9D3E6"/>
<path d="M1557.6 1260.3H2486.3M1557.6 1229.8V1290.1M2486.3 1229.8V1290.1" stroke="#1a1a1a" stroke-width="1.2" fill="none"/>
<text transform="translate(1613.3,1231.6) rotate(-45)" font-size="14.4">MAG62_gene1529</text>
<text transform="translate(1682,1231.6) rotate(-45)" font-size="14.4">MAG62_gene1530</text>
<text transform="translate(1771.4,1231.6) rotate(-45)" font-size="14.4">MAG62_gene1531</text>
<text transform="translate(1884.5,1231.6) rotate(-45)" font-size="14.4">MAG62_gene1532</text>
<text transform="translate(2013.6,1231.6) rotate(-45)" font-size="14.4">MAG62_gene1533</text>
<text transform="translate(2304.4,1231.6) rotate(-45)" font-size="14.4">MAG62_gene1535</text>
<text transform="translate(2412.2,1231.6) rotate(-45)" font-size="14.4">MAG62_gene1536</text>
<text transform="translate(2172.2,1231.2) rotate(-45)" font-size="20" font-weight="bold" fill="#D22B1C">MAG62_gene1534 (92.8)</text>
<text x="2342" y="1317.4" font-size="22.25" font-weight="bold">MAG62(<tspan font-style="italic">Variovorax paradoxus</tspan>)</text>
<rect x="1557.6" y="1438.9" width="463" height="60.6" fill="#F3F3F3"/>
<polygon points="1572.1,1484.5 1584.7,1469.5 1584.7,1476.5 1651.7,1476.5 1651.7,1492.5 1584.7,1492.5 1584.7,1499.5" fill="#95CD8F"/>
<polygon points="1651.7,1484.5 1664.6,1469.5 1664.6,1476.5 1741.4,1476.5 1741.4,1492.5 1664.6,1492.5 1664.6,1499.5" fill="#95CD8F"/>
<polygon points="1745.9,1484.5 1758.8,1469.5 1758.8,1476.5 1853.1,1476.5 1853.1,1492.5 1758.8,1492.5 1758.8,1499.5" fill="#95CD8F"/>
<path d="M1557.6 1469.5H2020.6M1557.6 1438.9V1499.5M2020.6 1438.9V1499.5" stroke="#1a1a1a" stroke-width="1.2" fill="none"/>
<text transform="translate(1609.4,1498.2) rotate(45)" font-size="15">MAG64_gene1963</text>
<text transform="translate(1695.6,1498.2) rotate(45)" font-size="15">MAG64_gene1964</text>
<text transform="translate(1789.8,1508.7) rotate(45)" font-size="20" font-weight="bold" fill="#D22B1C">MAG64_gene1965 (92.8)</text>
<text x="2035.6" y="1474.3" font-size="22.25" font-weight="bold">MAG64(<tspan font-style="italic">JAKFDI01 sp.</tspan>)</text>
<rect x="1558.2" y="1810.2" width="144.8" height="60.4" fill="#F3F3F3"/>
<polygon points="1558.2,1817.4 1602.1,1817.4 1602.1,1810.4 1614.3,1825.4 1602.1,1840.4 1602.1,1833.4 1558.2,1833.4" fill="#A9D3E6"/>
<polygon points="1621.3,1817.4 1630,1817.4 1630,1810.4 1641.9,1825.4 1630,1840.4 1630,1833.4 1621.3,1833.4" fill="#A9D3E6"/>
<polygon points="1645.4,1817.4 1656.9,1817.4 1656.9,1810.4 1669.1,1825.4 1656.9,1840.4 1656.9,1833.4 1645.4,1833.4" fill="#A9D3E6"/>
<polygon points="1669.8,1817.4 1681.4,1817.4 1681.4,1810.4 1693.6,1825.4 1681.4,1840.4 1681.4,1833.4 1669.8,1833.4" fill="#A9D3E6"/>
<path d="M1558.2 1840.6H1703M1558.2 1810.2V1870.6M1703 1810.2V1870.6" stroke="#1a1a1a" stroke-width="1.2" fill="none"/>
<text transform="translate(1588.8,1811.6) rotate(-45)" font-size="20" font-weight="bold" fill="#D22B1C">MAG62_gene3210 (91.9)</text>
<text transform="translate(1634.2,1811.6) rotate(-45)" font-size="14.4">MAG62_gene3211</text>
<text transform="translate(1659.7,1811.6) rotate(-45)" font-size="14.4">MAG62_gene3212</text>
<text transform="translate(1683.8,1811.6) rotate(-45)" font-size="14.4">MAG62_gene3213</text>
<text x="1713.5" y="1849.3" font-size="22.25" font-weight="bold">MAG62(<tspan font-style="italic">Variovorax paradoxus</tspan>)</text>
<rect x="1558.2" y="2022.1" width="942.7" height="61.3" fill="#F3F3F3"/>
<polygon points="1690.1,2029.5 1734.8,2029.5 1734.8,2022.5 1747.7,2037.5 1734.8,2052.5 1734.8,2045.5 1690.1,2045.5" fill="#A9D3E6"/>
<polygon points="1808.1,2029.5 1854.1,2029.5 1854.1,2022.5 1866.4,2037.5 1854.1,2052.5 1854.1,2045.5 1808.1,2045.5" fill="#A9D3E6"/>
<polygon points="1866.4,2029.5 1899.5,2029.5 1899.5,2022.5 1912.4,2037.5 1899.5,2052.5 1899.5,2045.5 1866.4,2045.5" fill="#A9D3E6"/>
<polygon points="1936.2,2029.5 1968.6,2029.5 1968.6,2022.5 1981.5,2037.5 1968.6,2052.5 1968.6,2045.5 1936.2,2045.5" fill="#A9D3E6"/>
<polygon points="1984,2029.5 1993.8,2029.5 1993.8,2022.5 2006.7,2037.5 1993.8,2052.5 1993.8,2045.5 1984,2045.5" fill="#A9D3E6"/>
<polygon points="2007.7,2029.5 2059.4,2029.5 2059.4,2022.5 2072.3,2037.5 2059.4,2052.5 2059.4,2045.5 2007.7,2045.5" fill="#A9D3E6"/>
<polygon points="2076.8,2029.5 2085.4,2029.5 2085.4,2022.5 2098.3,2037.5 2085.4,2052.5 2085.4,2045.5 2076.8,2045.5" fill="#A9D3E6"/>
<polygon points="1558.2,2068.2 1570.7,2053.2 1570.7,2060.2 1593.1,2060.2 1593.1,2076.2 1570.7,2076.2 1570.7,2083.2" fill="#95CD8F"/>
<polygon points="1593.1,2068.2 1605.6,2053.2 1605.6,2060.2 1639.5,2060.2 1639.5,2076.2 1605.6,2076.2 1605.6,2083.2" fill="#95CD8F"/>
<polygon points="1639.5,2068.2 1651.7,2053.2 1651.7,2060.2 1683.1,2060.2 1683.1,2076.2 1651.7,2076.2 1651.7,2083.2" fill="#95CD8F"/>
<polygon points="1751.9,2068.2 1762.3,2053.2 1762.3,2083.2" fill="#95CD8F"/>
<polygon points="1767.6,2068.2 1780.1,2053.2 1780.1,2060.2 1798.3,2060.2 1798.3,2076.2 1780.1,2076.2 1780.1,2083.2" fill="#95CD8F"/>
<polygon points="1911.7,2068.2 1923.9,2053.2 1923.9,2060.2 1933.7,2060.2 1933.7,2076.2 1923.9,2076.2 1923.9,2083.2" fill="#95CD8F"/>
<polygon points="2105,2068.2 2117.6,2053.2 2117.6,2060.2 2138.4,2060.2 2138.4,2076.2 2117.6,2076.2 2117.6,2083.2" fill="#95CD8F"/>
<polygon points="2140.9,2068.2 2153.1,2053.2 2153.1,2060.2 2214.6,2060.2 2214.6,2076.2 2153.1,2076.2 2153.1,2083.2" fill="#95CD8F"/>
<polygon points="2220.2,2068.2 2232.4,2053.2 2232.4,2060.2 2274.8,2060.2 2274.8,2076.2 2232.4,2076.2 2232.4,2083.2" fill="#95CD8F"/>
<polygon points="2275.9,2068.2 2287.7,2053.2 2287.7,2060.2 2306.1,2060.2 2306.1,2076.2 2287.7,2076.2 2287.7,2083.2" fill="#95CD8F"/>
<polygon points="2307.2,2068.2 2318.3,2053.2 2318.3,2060.2 2342.7,2060.2 2342.7,2076.2 2318.3,2076.2 2318.3,2083.2" fill="#95CD8F"/>
<polygon points="2344.4,2068.2 2355.9,2053.2 2355.9,2060.2 2381.6,2060.2 2381.6,2076.2 2355.9,2076.2 2355.9,2083.2" fill="#95CD8F"/>
<polygon points="2382.7,2068.2 2394.8,2053.2 2394.8,2060.2 2426.1,2060.2 2426.1,2076.2 2394.8,2076.2 2394.8,2083.2" fill="#95CD8F"/>
<polygon points="2427.2,2068.2 2439.4,2053.2 2439.4,2060.2 2472.4,2060.2 2472.4,2076.2 2439.4,2076.2 2439.4,2083.2" fill="#95CD8F"/>
<polygon points="2472.4,2068.2 2484.6,2053.2 2484.6,2060.2 2494,2060.2 2494,2076.2 2484.6,2076.2 2484.6,2083.2" fill="#95CD8F"/>
<path d="M1558.2 2052.9H2500.9M1558.2 2022.1V2083.4M2500.9 2022.1V2083.4M1987.8 2037.9V2052.9M2417.5 2037.9V2052.9" stroke="#1a1a1a" stroke-width="1.2" fill="none"/>
<text transform="translate(1719.7,2024.3) rotate(-45)" font-size="14.7">MAG83_gene2116</text>
<text transform="translate(1837.7,2024.3) rotate(-45)" font-size="14.7">MAG83_gene2119</text>
<text transform="translate(1890.1,2024.3) rotate(-45)" font-size="14.7">MAG83_gene2120</text>
<text transform="translate(1958.8,2024.3) rotate(-45)" font-size="14.7">MAG83_gene2122</text>
<text transform="translate(1995.5,2024.3) rotate(-45)" font-size="14.7">MAG83_gene2123</text>
<text transform="translate(2088,2024.3) rotate(-45)" font-size="14.7">MAG83_gene2125</text>
<text transform="translate(2039.1,2024.3) rotate(-45)" font-size="20" font-weight="bold" fill="#D22B1C">MAG83_gene2124 (91.9)</text>
<text transform="translate(1981.5,2084.7) rotate(-45)" font-size="17.5">10000</text>
<text transform="translate(2419.2,2036.2) rotate(-45)" font-size="17.5">20000</text>
<text transform="translate(1574.4,2082.2) rotate(45)" font-size="14.9">MAG83_gene2113</text>
<text transform="translate(1615.3,2082.2) rotate(45)" font-size="14.9">MAG83_gene2114</text>
<text transform="translate(1660,2082.2) rotate(45)" font-size="14.9">MAG83_gene2115</text>
<text transform="translate(1756,2082.2) rotate(45)" font-size="14.9">MAG83_gene2117</text>
<text transform="translate(1781.4,2082.2) rotate(45)" font-size="14.9">MAG83_gene2118</text>
<text transform="translate(1921.8,2082.2) rotate(45)" font-size="14.9">MAG83_gene2121</text>
<text transform="translate(2121.3,2082.2) rotate(45)" font-size="14.9">MAG83_gene2126</text>
<text transform="translate(2177,2082.2) rotate(45)" font-size="14.9">MAG83_gene2127</text>
<text transform="translate(2246.5,2082.2) rotate(45)" font-size="14.9">MAG83_gene2128</text>
<text transform="translate(2289,2082.2) rotate(45)" font-size="14.9">MAG83_gene2129</text>
<text transform="translate(2323.1,2082.2) rotate(45)" font-size="14.9">MAG83_gene2130</text>
<text transform="translate(2361.3,2082.2) rotate(45)" font-size="14.9">MAG83_gene2131</text>
<text transform="translate(2403.1,2082.2) rotate(45)" font-size="14.9">MAG83_gene2132</text>
<text transform="translate(2448.3,2082.2) rotate(45)" font-size="14.9">MAG83_gene2133</text>
<text transform="translate(2481.3,2082.2) rotate(45)" font-size="14.9">MAG83_gene2134</text>
<text x="2344.4" y="2200.8" font-size="22.25" font-weight="bold">MAG83(<tspan font-style="italic">Xenophilus azovorans</tspan>)</text>
</g>
</svg>
</body></html>
